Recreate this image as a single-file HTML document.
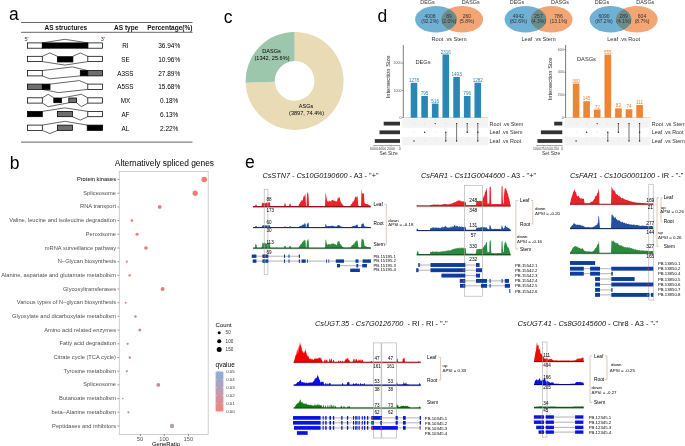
<!DOCTYPE html>
<html><head><meta charset="utf-8"><style>
html,body{margin:0;padding:0;background:#fff;}
svg{display:block;will-change:transform;}
text{font-family:"Liberation Sans", sans-serif;}
</style></head><body>
<svg width="685" height="446" viewBox="0 0 685 446">
<rect width="685" height="446" fill="#fff"/>
<text x="9.00" y="19.80" font-size="17.5">a</text>
<text x="9.80" y="168.80" font-size="17.5">b</text>
<text x="223.80" y="22.90" font-size="17.5">c</text>
<text x="377.60" y="22.20" font-size="17.5">d</text>
<text x="244.90" y="167.90" font-size="17.5">e</text>
<line x1="21.00" y1="22.50" x2="192.50" y2="22.50" stroke="#6f6363" stroke-width="1.0"/>
<line x1="21.00" y1="32.30" x2="192.50" y2="32.30" stroke="#6f6363" stroke-width="1.0"/>
<line x1="21.00" y1="142.10" x2="192.50" y2="142.10" stroke="#8a8080" stroke-width="1.1"/>
<text x="65.80" y="29.74" font-size="6.5" text-anchor="middle" fill="#111" font-weight="bold">AS structures</text>
<text x="126.20" y="29.74" font-size="6.5" text-anchor="middle" fill="#111" font-weight="bold">AS type</text>
<text x="169.80" y="29.74" font-size="6.5" text-anchor="middle" fill="#111" font-weight="bold">Percentage(%)</text>
<text x="24.50" y="40.68" font-size="5.5" fill="#333">5'</text>
<text x="100.80" y="40.78" font-size="5.5" fill="#333">3'</text>
<text x="125.40" y="48.07" font-size="6.3" text-anchor="middle">RI</text>
<text x="169.20" y="48.14" font-size="6.5" text-anchor="middle">36.94%</text>
<text x="125.40" y="61.84" font-size="6.3" text-anchor="middle">SE</text>
<text x="169.20" y="61.91" font-size="6.5" text-anchor="middle">10.96%</text>
<text x="125.40" y="75.61" font-size="6.3" text-anchor="middle">A3SS</text>
<text x="169.20" y="75.68" font-size="6.5" text-anchor="middle">27.89%</text>
<text x="125.40" y="89.38" font-size="6.3" text-anchor="middle">A5SS</text>
<text x="169.20" y="89.45" font-size="6.5" text-anchor="middle">15.68%</text>
<text x="125.40" y="103.15" font-size="6.3" text-anchor="middle">MX</text>
<text x="169.20" y="103.22" font-size="6.5" text-anchor="middle">0.18%</text>
<text x="125.40" y="116.92" font-size="6.3" text-anchor="middle">AF</text>
<text x="169.20" y="116.99" font-size="6.5" text-anchor="middle">6.13%</text>
<text x="125.40" y="130.69" font-size="6.3" text-anchor="middle">AL</text>
<text x="169.20" y="130.76" font-size="6.5" text-anchor="middle">2.22%</text>
<polyline points="42.30,42.90 64.90,39.30 87.80,42.90" fill="none" stroke="#000" stroke-width="0.6"/>
<rect x="27.40" y="42.90" width="14.90" height="5.30" fill="#fff" stroke="#000" stroke-width="0.75"/>
<rect x="87.80" y="42.90" width="14.80" height="5.30" fill="#fff" stroke="#000" stroke-width="0.75"/>
<rect x="42.30" y="42.90" width="45.50" height="5.30" fill="#000" stroke="#000" stroke-width="0.75"/>
<polyline points="42.30,56.30 49.90,52.90 57.40,56.30" fill="none" stroke="#000" stroke-width="0.6"/>
<polyline points="72.90,56.30 80.30,52.90 87.80,56.30" fill="none" stroke="#000" stroke-width="0.6"/>
<polyline points="42.30,61.60 64.90,65.10 87.80,61.60" fill="none" stroke="#000" stroke-width="0.6"/>
<rect x="27.40" y="56.30" width="14.90" height="5.30" fill="#fff" stroke="#000" stroke-width="0.75"/>
<rect x="87.80" y="56.30" width="14.80" height="5.30" fill="#fff" stroke="#000" stroke-width="0.75"/>
<rect x="57.40" y="56.70" width="15.50" height="5.30" fill="#000" stroke="#000" stroke-width="0.75"/>
<polyline points="42.30,70.60 72.30,66.90 87.80,70.60" fill="none" stroke="#000" stroke-width="0.6"/>
<polyline points="42.30,75.90 49.90,78.80 80.30,75.90" fill="none" stroke="#000" stroke-width="0.6"/>
<rect x="27.40" y="70.60" width="14.90" height="5.30" fill="#fff" stroke="#000" stroke-width="0.75"/>
<rect x="80.30" y="70.60" width="7.50" height="5.30" fill="#000" stroke="#000" stroke-width="0.75"/>
<rect x="87.80" y="70.60" width="14.80" height="5.30" fill="#6e6e6e" stroke="#000" stroke-width="0.75"/>
<polyline points="50.00,84.10 79.40,80.60 87.80,84.10" fill="none" stroke="#000" stroke-width="0.6"/>
<polyline points="42.30,89.40 58.50,92.60 87.80,89.40" fill="none" stroke="#000" stroke-width="0.6"/>
<rect x="27.40" y="84.10" width="14.90" height="5.30" fill="#6e6e6e" stroke="#000" stroke-width="0.75"/>
<rect x="42.30" y="84.10" width="7.70" height="5.30" fill="#000" stroke="#000" stroke-width="0.75"/>
<rect x="87.80" y="84.10" width="14.80" height="5.30" fill="#fff" stroke="#000" stroke-width="0.75"/>
<polyline points="42.30,97.80 48.20,94.30 53.80,97.80" fill="none" stroke="#000" stroke-width="0.6"/>
<polyline points="61.60,98.00 81.40,94.30 87.80,97.80" fill="none" stroke="#000" stroke-width="0.6"/>
<polyline points="42.30,103.10 48.20,106.70 68.80,102.80" fill="none" stroke="#000" stroke-width="0.6"/>
<polyline points="76.60,102.80 81.40,106.70 87.80,103.10" fill="none" stroke="#000" stroke-width="0.6"/>
<rect x="27.40" y="97.80" width="14.90" height="5.30" fill="#fff" stroke="#000" stroke-width="0.75"/>
<rect x="87.80" y="97.80" width="14.80" height="5.30" fill="#fff" stroke="#000" stroke-width="0.75"/>
<rect x="53.80" y="98.00" width="7.80" height="4.70" fill="#000" stroke="#000" stroke-width="0.75"/>
<rect x="68.80" y="98.00" width="7.80" height="4.70" fill="#6e6e6e" stroke="#000" stroke-width="0.75"/>
<polyline points="42.30,111.40 64.90,107.90 87.80,111.40" fill="none" stroke="#000" stroke-width="0.6"/>
<polyline points="72.40,116.70 80.20,120.10 87.80,116.70" fill="none" stroke="#000" stroke-width="0.6"/>
<rect x="27.40" y="111.40" width="14.90" height="5.30" fill="#000" stroke="#000" stroke-width="0.75"/>
<rect x="57.40" y="111.40" width="15.00" height="5.30" fill="#6e6e6e" stroke="#000" stroke-width="0.75"/>
<rect x="87.80" y="111.40" width="14.80" height="5.30" fill="#fff" stroke="#000" stroke-width="0.75"/>
<polyline points="42.30,125.10 64.90,121.30 87.20,125.10" fill="none" stroke="#000" stroke-width="0.6"/>
<polyline points="42.30,130.40 50.00,133.60 57.40,130.40" fill="none" stroke="#000" stroke-width="0.6"/>
<rect x="27.40" y="125.10" width="14.90" height="5.30" fill="#fff" stroke="#000" stroke-width="0.75"/>
<rect x="57.40" y="125.10" width="15.00" height="5.30" fill="#6e6e6e" stroke="#000" stroke-width="0.75"/>
<rect x="87.20" y="125.10" width="15.40" height="5.30" fill="#000" stroke="#000" stroke-width="0.75"/>
<text x="164.40" y="166.22" font-size="8.4" text-anchor="middle">Alternatively spliced genes</text>
<rect x="119.30" y="171.50" width="88.90" height="262.90" fill="#fff" stroke="#c4c4c4" stroke-width="0.8"/>
<text x="116.00" y="181.06" font-size="5.72" text-anchor="end" fill="#262626" stroke="#262626" stroke-width="0.06">Protein kinases</text>
<line x1="117.40" y1="179.50" x2="119.20" y2="179.50" stroke="#555" stroke-width="0.6"/>
<circle cx="204.20" cy="179.50" r="2.80" fill="#f7786d"/>
<text x="116.00" y="194.75" font-size="5.72" text-anchor="end" fill="#505050">Spliceosome</text>
<line x1="117.40" y1="193.19" x2="119.20" y2="193.19" stroke="#555" stroke-width="0.6"/>
<circle cx="195.20" cy="193.19" r="2.60" fill="#f5796e"/>
<text x="116.00" y="208.45" font-size="5.72" text-anchor="end" fill="#505050">RNA transport</text>
<line x1="117.40" y1="206.89" x2="119.20" y2="206.89" stroke="#555" stroke-width="0.6"/>
<circle cx="159.70" cy="206.89" r="1.90" fill="#f07a6f"/>
<text x="116.00" y="222.14" font-size="5.72" text-anchor="end" fill="#505050">Valine, leucine and isoleucine degradation</text>
<line x1="117.40" y1="220.58" x2="119.20" y2="220.58" stroke="#555" stroke-width="0.6"/>
<circle cx="131.90" cy="220.58" r="1.30" fill="#ee7a70"/>
<text x="116.00" y="235.83" font-size="5.72" text-anchor="end" fill="#505050">Peroxisome</text>
<line x1="117.40" y1="234.27" x2="119.20" y2="234.27" stroke="#555" stroke-width="0.6"/>
<circle cx="137.00" cy="234.27" r="1.50" fill="#ec7b72"/>
<text x="116.00" y="249.52" font-size="5.72" text-anchor="end" fill="#505050">mRNA surveillance pathway</text>
<line x1="117.40" y1="247.97" x2="119.20" y2="247.97" stroke="#555" stroke-width="0.6"/>
<circle cx="146.00" cy="247.97" r="1.80" fill="#e87d75"/>
<text x="116.00" y="263.22" font-size="5.72" text-anchor="end" fill="#505050">N−Glycan biosynthesis</text>
<line x1="117.40" y1="261.66" x2="119.20" y2="261.66" stroke="#555" stroke-width="0.6"/>
<circle cx="126.80" cy="261.66" r="1.10" fill="#e77d76"/>
<text x="116.00" y="276.91" font-size="5.72" text-anchor="end" fill="#505050">Alanine, aspartate and glutamate metabolism</text>
<line x1="117.40" y1="275.35" x2="119.20" y2="275.35" stroke="#555" stroke-width="0.6"/>
<circle cx="129.70" cy="275.35" r="1.20" fill="#e47f78"/>
<text x="116.00" y="290.60" font-size="5.72" text-anchor="end" fill="#505050">Glycosyltransferases</text>
<line x1="117.40" y1="289.04" x2="119.20" y2="289.04" stroke="#555" stroke-width="0.6"/>
<circle cx="162.60" cy="289.04" r="2.00" fill="#de827c"/>
<text x="116.00" y="304.30" font-size="5.72" text-anchor="end" fill="#505050">Various types of N−glycan biosynthesis</text>
<line x1="117.40" y1="302.74" x2="119.20" y2="302.74" stroke="#555" stroke-width="0.6"/>
<circle cx="125.70" cy="302.74" r="1.00" fill="#d9847f"/>
<text x="116.00" y="317.99" font-size="5.72" text-anchor="end" fill="#505050">Glyoxylate and dicarboxylate metabolism</text>
<line x1="117.40" y1="316.43" x2="119.20" y2="316.43" stroke="#555" stroke-width="0.6"/>
<circle cx="135.40" cy="316.43" r="1.30" fill="#c98b8f"/>
<text x="116.00" y="331.68" font-size="5.72" text-anchor="end" fill="#505050">Amino acid related enzymes</text>
<line x1="117.40" y1="330.12" x2="119.20" y2="330.12" stroke="#555" stroke-width="0.6"/>
<circle cx="139.80" cy="330.12" r="1.50" fill="#c88b90"/>
<text x="116.00" y="345.38" font-size="5.72" text-anchor="end" fill="#505050">Fatty acid degradation</text>
<line x1="117.40" y1="343.82" x2="119.20" y2="343.82" stroke="#555" stroke-width="0.6"/>
<circle cx="127.60" cy="343.82" r="1.10" fill="#c98a8e"/>
<text x="116.00" y="359.07" font-size="5.72" text-anchor="end" fill="#505050">Citrate cycle (TCA cycle)</text>
<line x1="117.40" y1="357.51" x2="119.20" y2="357.51" stroke="#555" stroke-width="0.6"/>
<circle cx="129.80" cy="357.51" r="1.20" fill="#c68b91"/>
<text x="116.00" y="372.76" font-size="5.72" text-anchor="end" fill="#505050">Tyrosine metabolism</text>
<line x1="117.40" y1="371.20" x2="119.20" y2="371.20" stroke="#555" stroke-width="0.6"/>
<circle cx="126.80" cy="371.20" r="1.10" fill="#c58c92"/>
<text x="116.00" y="386.45" font-size="5.72" text-anchor="end" fill="#505050">Spliceosome</text>
<line x1="117.40" y1="384.89" x2="119.20" y2="384.89" stroke="#555" stroke-width="0.6"/>
<circle cx="158.30" cy="384.89" r="1.90" fill="#bf8e95"/>
<text x="116.00" y="400.15" font-size="5.72" text-anchor="end" fill="#505050">Butanoate metabolism</text>
<line x1="117.40" y1="398.59" x2="119.20" y2="398.59" stroke="#555" stroke-width="0.6"/>
<circle cx="122.80" cy="398.59" r="0.80" fill="#bb8f98"/>
<text x="116.00" y="413.84" font-size="5.72" text-anchor="end" fill="#505050">beta−Alanine metabolism</text>
<line x1="117.40" y1="412.28" x2="119.20" y2="412.28" stroke="#555" stroke-width="0.6"/>
<circle cx="128.40" cy="412.28" r="1.10" fill="#b9909a"/>
<text x="116.00" y="427.53" font-size="5.72" text-anchor="end" fill="#505050">Peptidases and inhibitors</text>
<line x1="117.40" y1="425.97" x2="119.20" y2="425.97" stroke="#555" stroke-width="0.6"/>
<circle cx="172.00" cy="425.97" r="2.20" fill="#b29db6"/>
<line x1="140.40" y1="434.30" x2="140.40" y2="436.00" stroke="#444" stroke-width="0.6"/>
<text x="140.10" y="440.89" font-size="5.8" text-anchor="middle" fill="#555">50</text>
<line x1="164.30" y1="434.30" x2="164.30" y2="436.00" stroke="#444" stroke-width="0.6"/>
<text x="164.00" y="440.89" font-size="5.8" text-anchor="middle" fill="#555">100</text>
<line x1="188.60" y1="434.30" x2="188.60" y2="436.00" stroke="#444" stroke-width="0.6"/>
<text x="188.30" y="440.89" font-size="5.8" text-anchor="middle" fill="#555">150</text>
<text x="166.00" y="445.72" font-size="5.9" text-anchor="middle">GeneRatio</text>
<text x="215.60" y="326.56" font-size="6.0">Count</text>
<circle cx="219.20" cy="332.70" r="1.50" fill="#000"/>
<text x="225.60" y="334.36" font-size="4.6" fill="#333">50</text>
<circle cx="219.20" cy="341.30" r="2.00" fill="#000"/>
<text x="225.60" y="342.96" font-size="4.6" fill="#333">100</text>
<circle cx="219.20" cy="349.60" r="2.50" fill="#000"/>
<text x="225.60" y="351.26" font-size="4.6" fill="#333">150</text>
<text x="215.60" y="366.54" font-size="6.5">qvalue</text>
<defs><linearGradient id="qg" x1="0" y1="0" x2="0" y2="1"><stop offset="0" stop-color="#88b0da"/><stop offset="0.5" stop-color="#c09bb0"/><stop offset="1" stop-color="#f8807a"/></linearGradient></defs>
<rect x="215.60" y="371.50" width="7.80" height="40.00" fill="url(#qg)"/>
<text x="226.20" y="373.38" font-size="4.4" fill="#333">0.05</text>
<line x1="215.60" y1="371.80" x2="217.00" y2="371.80" stroke="#fff" stroke-width="0.4"/>
<line x1="222.00" y1="371.80" x2="223.40" y2="371.80" stroke="#fff" stroke-width="0.4"/>
<text x="226.20" y="381.28" font-size="4.4" fill="#333">0.04</text>
<line x1="215.60" y1="379.70" x2="217.00" y2="379.70" stroke="#fff" stroke-width="0.4"/>
<line x1="222.00" y1="379.70" x2="223.40" y2="379.70" stroke="#fff" stroke-width="0.4"/>
<text x="226.20" y="389.18" font-size="4.4" fill="#333">0.03</text>
<line x1="215.60" y1="387.60" x2="217.00" y2="387.60" stroke="#fff" stroke-width="0.4"/>
<line x1="222.00" y1="387.60" x2="223.40" y2="387.60" stroke="#fff" stroke-width="0.4"/>
<text x="226.20" y="397.08" font-size="4.4" fill="#333">0.02</text>
<line x1="215.60" y1="395.50" x2="217.00" y2="395.50" stroke="#fff" stroke-width="0.4"/>
<line x1="222.00" y1="395.50" x2="223.40" y2="395.50" stroke="#fff" stroke-width="0.4"/>
<text x="226.20" y="404.98" font-size="4.4" fill="#333">0.01</text>
<line x1="215.60" y1="403.40" x2="217.00" y2="403.40" stroke="#fff" stroke-width="0.4"/>
<line x1="222.00" y1="403.40" x2="223.40" y2="403.40" stroke="#fff" stroke-width="0.4"/>
<text x="226.20" y="412.88" font-size="4.4" fill="#333">0.00</text>
<line x1="215.60" y1="411.30" x2="217.00" y2="411.30" stroke="#fff" stroke-width="0.4"/>
<line x1="222.00" y1="411.30" x2="223.40" y2="411.30" stroke="#fff" stroke-width="0.4"/>
<path d="M294.60,31.90 A49.0,49.0 0 1 1 245.63,82.75 L274.81,81.65 A19.8,19.8 0 1 0 294.60,61.10 Z" fill="#e8dbb6"/>
<path d="M245.63,82.75 A49.0,49.0 0 0 1 294.60,31.90 L294.60,61.10 A19.8,19.8 0 0 0 274.81,81.65 Z" fill="#9dc7ad"/>
<text x="271.60" y="52.92" font-size="5.6" text-anchor="middle">DASGs</text>
<text x="272.00" y="59.82" font-size="5.6" text-anchor="middle">(1342, 25.6%)</text>
<text x="306.00" y="108.42" font-size="5.6" text-anchor="middle">ASGs</text>
<text x="306.60" y="115.32" font-size="5.6" text-anchor="middle">(3897, 74.4%)</text>
<ellipse cx="436.0" cy="19.3" rx="20.9" ry="13.3" fill="#6fb1d5"/>
<ellipse cx="462.2" cy="19.3" rx="20.9" ry="13.3" fill="#f3a574"/>
<clipPath id="vc0"><ellipse cx="436.0" cy="19.3" rx="20.9" ry="13.3"/></clipPath>
<ellipse cx="462.2" cy="19.3" rx="20.9" ry="13.3" fill="#6b8c8e" clip-path="url(#vc0)"/>
<text x="430.00" y="18.10" font-size="5.0" text-anchor="middle" fill="#333">4008</text>
<text x="430.00" y="23.20" font-size="5.0" text-anchor="middle" fill="#333">(92.2%)</text>
<text x="449.00" y="18.10" font-size="5.0" text-anchor="middle" fill="#333">89</text>
<text x="449.00" y="23.20" font-size="5.0" text-anchor="middle" fill="#333">(2.0%)</text>
<text x="466.80" y="18.10" font-size="5.0" text-anchor="middle" fill="#333">260</text>
<text x="466.80" y="23.20" font-size="5.0" text-anchor="middle" fill="#333">(5.8%)</text>
<text x="427.50" y="3.54" font-size="5.4" text-anchor="middle" fill="#333">DEGs</text>
<text x="470.70" y="3.54" font-size="5.4" text-anchor="middle" fill="#333">DASGs</text>
<text x="449.10" y="41.02" font-size="5.6" text-anchor="middle" fill="#333">Root .vs Stem</text>
<ellipse cx="525.5" cy="19.3" rx="20.9" ry="13.3" fill="#6fb1d5"/>
<ellipse cx="551.6" cy="19.3" rx="20.9" ry="13.3" fill="#f3a574"/>
<clipPath id="vc1"><ellipse cx="525.5" cy="19.3" rx="20.9" ry="13.3"/></clipPath>
<ellipse cx="551.6" cy="19.3" rx="20.9" ry="13.3" fill="#6b8c8e" clip-path="url(#vc1)"/>
<text x="518.40" y="18.10" font-size="5.0" text-anchor="middle" fill="#333">4942</text>
<text x="518.40" y="23.20" font-size="5.0" text-anchor="middle" fill="#333">(82.6%)</text>
<text x="538.50" y="18.10" font-size="5.0" text-anchor="middle" fill="#333">257</text>
<text x="538.50" y="23.20" font-size="5.0" text-anchor="middle" fill="#333">(4.3%)</text>
<text x="558.50" y="18.10" font-size="5.0" text-anchor="middle" fill="#333">786</text>
<text x="558.50" y="23.20" font-size="5.0" text-anchor="middle" fill="#333">(13.1%)</text>
<text x="517.00" y="3.54" font-size="5.4" text-anchor="middle" fill="#333">DEGs</text>
<text x="560.10" y="3.54" font-size="5.4" text-anchor="middle" fill="#333">DASGs</text>
<text x="538.55" y="41.02" font-size="5.6" text-anchor="middle" fill="#333">Leaf .vs Stem</text>
<ellipse cx="610.5" cy="19.3" rx="20.9" ry="13.3" fill="#6fb1d5"/>
<ellipse cx="636.8" cy="19.3" rx="20.9" ry="13.3" fill="#f3a574"/>
<clipPath id="vc2"><ellipse cx="610.5" cy="19.3" rx="20.9" ry="13.3"/></clipPath>
<ellipse cx="636.8" cy="19.3" rx="20.9" ry="13.3" fill="#6b8c8e" clip-path="url(#vc2)"/>
<text x="604.00" y="18.10" font-size="5.0" text-anchor="middle" fill="#333">6090</text>
<text x="604.00" y="23.20" font-size="5.0" text-anchor="middle" fill="#333">(87.2%)</text>
<text x="623.70" y="18.10" font-size="5.0" text-anchor="middle" fill="#333">289</text>
<text x="623.70" y="23.20" font-size="5.0" text-anchor="middle" fill="#333">(4.1%)</text>
<text x="642.00" y="18.10" font-size="5.0" text-anchor="middle" fill="#333">604</text>
<text x="642.00" y="23.20" font-size="5.0" text-anchor="middle" fill="#333">(8.7%)</text>
<text x="602.00" y="3.54" font-size="5.4" text-anchor="middle" fill="#333">DEGs</text>
<text x="645.30" y="3.54" font-size="5.4" text-anchor="middle" fill="#333">DASGs</text>
<text x="623.65" y="41.02" font-size="5.6" text-anchor="middle" fill="#333">Leaf .vs Root</text>
<line x1="403.30" y1="45.00" x2="403.30" y2="117.70" stroke="#444" stroke-width="0.7"/>
<line x1="403.30" y1="117.70" x2="488.30" y2="117.70" stroke="#bbb" stroke-width="0.7"/>
<line x1="401.80" y1="117.70" x2="403.30" y2="117.70" stroke="#444" stroke-width="0.5"/>
<text x="401.40" y="118.96" font-size="3.5" text-anchor="end" fill="#555">0</text>
<line x1="401.80" y1="90.40" x2="403.30" y2="90.40" stroke="#444" stroke-width="0.5"/>
<text x="401.40" y="91.66" font-size="3.5" text-anchor="end" fill="#555">1000</text>
<line x1="401.80" y1="63.10" x2="403.30" y2="63.10" stroke="#444" stroke-width="0.5"/>
<text x="401.40" y="64.36" font-size="3.5" text-anchor="end" fill="#555">2000</text>
<text x="415.40" y="64.35" font-size="5.7" fill="#333">DEGs</text>
<text transform="translate(389.80,77) rotate(-90)" font-size="5.8" text-anchor="middle" fill="#222">Intersection Size</text>
<rect x="410.70" y="82.81" width="6.60" height="34.89" fill="#2a87b4"/>
<text x="414.00" y="81.87" font-size="4.6" text-anchor="middle" fill="#2a87b4">1278</text>
<rect x="421.30" y="96.00" width="6.60" height="21.70" fill="#2a87b4"/>
<text x="424.60" y="95.05" font-size="4.6" text-anchor="middle" fill="#2a87b4">795</text>
<rect x="431.90" y="103.61" width="6.60" height="14.09" fill="#2a87b4"/>
<text x="435.20" y="102.67" font-size="4.6" text-anchor="middle" fill="#2a87b4">516</text>
<rect x="442.50" y="54.47" width="6.60" height="63.23" fill="#2a87b4"/>
<text x="445.80" y="53.53" font-size="4.6" text-anchor="middle" fill="#2a87b4">2316</text>
<rect x="453.30" y="76.94" width="6.60" height="40.76" fill="#2a87b4"/>
<text x="456.60" y="76.00" font-size="4.6" text-anchor="middle" fill="#2a87b4">1493</text>
<rect x="463.90" y="95.97" width="6.60" height="21.73" fill="#2a87b4"/>
<text x="467.20" y="95.03" font-size="4.6" text-anchor="middle" fill="#2a87b4">796</text>
<rect x="474.50" y="82.70" width="6.60" height="35.00" fill="#2a87b4"/>
<text x="477.80" y="81.76" font-size="4.6" text-anchor="middle" fill="#2a87b4">1282</text>
<rect x="402.30" y="119.10" width="86.00" height="8.60" fill="#f3f3f3"/>
<rect x="402.30" y="136.90" width="86.00" height="8.40" fill="#f3f3f3"/>
<circle cx="414.00" cy="123.60" r="0.55" fill="#d8d8d8"/>
<circle cx="414.00" cy="132.30" r="0.55" fill="#d8d8d8"/>
<circle cx="414.00" cy="141.00" r="0.70" fill="#222"/>
<circle cx="424.60" cy="123.60" r="0.55" fill="#d8d8d8"/>
<circle cx="424.60" cy="141.00" r="0.55" fill="#d8d8d8"/>
<circle cx="424.60" cy="132.30" r="0.70" fill="#222"/>
<circle cx="435.20" cy="132.30" r="0.55" fill="#d8d8d8"/>
<circle cx="435.20" cy="141.00" r="0.55" fill="#d8d8d8"/>
<circle cx="435.20" cy="123.60" r="0.70" fill="#222"/>
<circle cx="445.80" cy="123.60" r="0.55" fill="#d8d8d8"/>
<line x1="445.80" y1="132.30" x2="445.80" y2="141.00" stroke="#606060" stroke-width="0.85"/>
<circle cx="445.80" cy="132.30" r="0.70" fill="#222"/>
<circle cx="445.80" cy="141.00" r="0.70" fill="#222"/>
<circle cx="456.60" cy="132.30" r="0.55" fill="#d8d8d8"/>
<line x1="456.60" y1="123.60" x2="456.60" y2="141.00" stroke="#606060" stroke-width="0.85"/>
<circle cx="456.60" cy="123.60" r="0.70" fill="#222"/>
<circle cx="456.60" cy="141.00" r="0.70" fill="#222"/>
<circle cx="467.20" cy="141.00" r="0.55" fill="#d8d8d8"/>
<line x1="467.20" y1="123.60" x2="467.20" y2="132.30" stroke="#606060" stroke-width="0.85"/>
<circle cx="467.20" cy="123.60" r="0.70" fill="#222"/>
<circle cx="467.20" cy="132.30" r="0.70" fill="#222"/>
<line x1="477.80" y1="123.60" x2="477.80" y2="141.00" stroke="#606060" stroke-width="0.85"/>
<circle cx="477.80" cy="123.60" r="0.70" fill="#222"/>
<circle cx="477.80" cy="132.30" r="0.70" fill="#222"/>
<circle cx="477.80" cy="141.00" r="0.70" fill="#222"/>
<rect x="383.70" y="121.70" width="16.30" height="3.80" fill="#333"/>
<text x="489.50" y="125.54" font-size="5.4" fill="#333">Root .vs Stem</text>
<rect x="379.50" y="130.40" width="20.50" height="3.80" fill="#333"/>
<text x="489.50" y="134.24" font-size="5.4" fill="#333">Leaf .vs Stem</text>
<rect x="374.80" y="139.10" width="25.20" height="3.80" fill="#333"/>
<text x="489.50" y="142.94" font-size="5.4" fill="#333">Leaf .vs Root</text>
<line x1="373.50" y1="145.60" x2="400.00" y2="145.60" stroke="#444" stroke-width="0.5"/>
<line x1="374.00" y1="145.60" x2="374.00" y2="146.60" stroke="#444" stroke-width="0.4"/>
<text x="374.00" y="149.76" font-size="3.5" text-anchor="middle" fill="#444">6000</text>
<line x1="382.20" y1="145.60" x2="382.20" y2="146.60" stroke="#444" stroke-width="0.4"/>
<text x="382.20" y="149.76" font-size="3.5" text-anchor="middle" fill="#444">4000</text>
<line x1="391.00" y1="145.60" x2="391.00" y2="146.60" stroke="#444" stroke-width="0.4"/>
<text x="391.00" y="149.76" font-size="3.5" text-anchor="middle" fill="#444">2000</text>
<line x1="399.80" y1="145.60" x2="399.80" y2="146.60" stroke="#444" stroke-width="0.4"/>
<text x="399.80" y="149.76" font-size="3.5" text-anchor="middle" fill="#444">0</text>
<text x="388.50" y="155.26" font-size="4.9" text-anchor="middle" fill="#333">Set Size</text>
<line x1="565.60" y1="45.00" x2="565.60" y2="117.70" stroke="#444" stroke-width="0.7"/>
<line x1="565.60" y1="117.70" x2="650.60" y2="117.70" stroke="#bbb" stroke-width="0.7"/>
<line x1="564.10" y1="117.70" x2="565.60" y2="117.70" stroke="#444" stroke-width="0.5"/>
<text x="563.70" y="118.96" font-size="3.5" text-anchor="end" fill="#555">0</text>
<line x1="564.10" y1="94.96" x2="565.60" y2="94.96" stroke="#444" stroke-width="0.5"/>
<text x="563.70" y="96.22" font-size="3.5" text-anchor="end" fill="#555">200</text>
<line x1="564.10" y1="72.22" x2="565.60" y2="72.22" stroke="#444" stroke-width="0.5"/>
<text x="563.70" y="73.48" font-size="3.5" text-anchor="end" fill="#555">400</text>
<line x1="564.10" y1="49.48" x2="565.60" y2="49.48" stroke="#444" stroke-width="0.5"/>
<text x="563.70" y="50.74" font-size="3.5" text-anchor="end" fill="#555">600</text>
<text x="577.00" y="61.05" font-size="5.7" fill="#333">DASGs</text>
<text transform="translate(551.90,79) rotate(-90)" font-size="5.8" text-anchor="middle" fill="#222">Intersection Size</text>
<rect x="572.80" y="83.59" width="6.60" height="34.11" fill="#ec8535"/>
<text x="576.10" y="82.65" font-size="4.6" text-anchor="middle" fill="#ec8535">300</text>
<rect x="583.30" y="101.21" width="6.60" height="16.49" fill="#ec8535"/>
<text x="586.60" y="100.27" font-size="4.6" text-anchor="middle" fill="#ec8535">145</text>
<rect x="593.90" y="109.51" width="6.60" height="8.19" fill="#ec8535"/>
<text x="597.20" y="108.57" font-size="4.6" text-anchor="middle" fill="#ec8535">72</text>
<rect x="604.50" y="54.60" width="6.60" height="63.10" fill="#ec8535"/>
<text x="607.80" y="53.65" font-size="4.6" text-anchor="middle" fill="#ec8535">555</text>
<rect x="615.10" y="108.38" width="6.60" height="9.32" fill="#ec8535"/>
<text x="618.40" y="107.43" font-size="4.6" text-anchor="middle" fill="#ec8535">82</text>
<rect x="625.70" y="109.29" width="6.60" height="8.41" fill="#ec8535"/>
<text x="629.00" y="108.34" font-size="4.6" text-anchor="middle" fill="#ec8535">74</text>
<rect x="636.30" y="105.08" width="6.60" height="12.62" fill="#ec8535"/>
<text x="639.60" y="104.14" font-size="4.6" text-anchor="middle" fill="#ec8535">111</text>
<rect x="564.60" y="119.10" width="86.00" height="8.60" fill="#f3f3f3"/>
<rect x="564.60" y="136.90" width="86.00" height="8.40" fill="#f3f3f3"/>
<circle cx="576.10" cy="123.60" r="0.55" fill="#d8d8d8"/>
<circle cx="576.10" cy="132.30" r="0.55" fill="#d8d8d8"/>
<circle cx="576.10" cy="141.00" r="0.70" fill="#222"/>
<circle cx="586.60" cy="123.60" r="0.55" fill="#d8d8d8"/>
<circle cx="586.60" cy="141.00" r="0.55" fill="#d8d8d8"/>
<circle cx="586.60" cy="132.30" r="0.70" fill="#222"/>
<circle cx="597.20" cy="132.30" r="0.55" fill="#d8d8d8"/>
<circle cx="597.20" cy="141.00" r="0.55" fill="#d8d8d8"/>
<circle cx="597.20" cy="123.60" r="0.70" fill="#222"/>
<circle cx="607.80" cy="123.60" r="0.55" fill="#d8d8d8"/>
<line x1="607.80" y1="132.30" x2="607.80" y2="141.00" stroke="#606060" stroke-width="0.85"/>
<circle cx="607.80" cy="132.30" r="0.70" fill="#222"/>
<circle cx="607.80" cy="141.00" r="0.70" fill="#222"/>
<circle cx="618.40" cy="141.00" r="0.55" fill="#d8d8d8"/>
<line x1="618.40" y1="123.60" x2="618.40" y2="132.30" stroke="#606060" stroke-width="0.85"/>
<circle cx="618.40" cy="123.60" r="0.70" fill="#222"/>
<circle cx="618.40" cy="132.30" r="0.70" fill="#222"/>
<circle cx="629.00" cy="132.30" r="0.55" fill="#d8d8d8"/>
<line x1="629.00" y1="123.60" x2="629.00" y2="141.00" stroke="#606060" stroke-width="0.85"/>
<circle cx="629.00" cy="123.60" r="0.70" fill="#222"/>
<circle cx="629.00" cy="141.00" r="0.70" fill="#222"/>
<line x1="639.60" y1="123.60" x2="639.60" y2="141.00" stroke="#606060" stroke-width="0.85"/>
<circle cx="639.60" cy="123.60" r="0.70" fill="#222"/>
<circle cx="639.60" cy="132.30" r="0.70" fill="#222"/>
<circle cx="639.60" cy="141.00" r="0.70" fill="#222"/>
<rect x="554.20" y="121.70" width="8.10" height="3.80" fill="#333"/>
<text x="651.80" y="125.54" font-size="5.4" fill="#333">Root .vs Stem</text>
<rect x="540.90" y="130.40" width="21.40" height="3.80" fill="#333"/>
<text x="651.80" y="134.24" font-size="5.4" fill="#333">Leaf .vs Root</text>
<rect x="537.40" y="139.10" width="24.90" height="3.80" fill="#333"/>
<text x="651.80" y="142.94" font-size="5.4" fill="#333">Leaf .vs Stem</text>
<line x1="536.50" y1="145.60" x2="562.30" y2="145.60" stroke="#444" stroke-width="0.5"/>
<line x1="537.00" y1="145.60" x2="537.00" y2="146.60" stroke="#444" stroke-width="0.4"/>
<text x="537.00" y="149.76" font-size="3.5" text-anchor="middle" fill="#444">1000</text>
<line x1="543.80" y1="145.60" x2="543.80" y2="146.60" stroke="#444" stroke-width="0.4"/>
<text x="543.80" y="149.76" font-size="3.5" text-anchor="middle" fill="#444">750</text>
<line x1="550.00" y1="145.60" x2="550.00" y2="146.60" stroke="#444" stroke-width="0.4"/>
<text x="550.00" y="149.76" font-size="3.5" text-anchor="middle" fill="#444">500</text>
<line x1="556.30" y1="145.60" x2="556.30" y2="146.60" stroke="#444" stroke-width="0.4"/>
<text x="556.30" y="149.76" font-size="3.5" text-anchor="middle" fill="#444">250</text>
<line x1="562.30" y1="145.60" x2="562.30" y2="146.60" stroke="#444" stroke-width="0.4"/>
<text x="562.30" y="149.76" font-size="3.5" text-anchor="middle" fill="#444">0</text>
<text x="551.15" y="155.26" font-size="4.9" text-anchor="middle" fill="#333">Set Size</text>
<text x="262.40" y="177.53" font-size="7.3" fill="#111"><tspan font-style="italic">CsSTN7 - Cs10G0190600</tspan> - A3 - "+"</text>
<polygon points="253.00,206.60 253.00,206.30 253.50,206.30 254.00,206.30 254.50,206.30 255.00,206.30 255.50,204.97 256.00,204.29 256.50,205.01 257.00,206.30 257.50,206.30 258.00,206.30 258.50,206.30 259.00,206.30 259.50,206.30 260.00,206.30 260.50,206.30 261.00,206.30 261.50,206.30 262.00,203.33 262.50,202.55 263.00,202.84 263.50,203.35 264.00,202.60 264.50,203.39 265.00,202.72 265.50,203.33 266.00,203.30 266.50,202.74 267.00,202.06 267.50,203.24 268.00,203.07 268.50,202.40 269.00,201.86 269.50,202.48 270.00,202.78 270.50,206.30 271.00,206.30 271.50,206.30 272.00,206.30 272.50,206.30 273.00,206.30 273.50,206.30 274.00,206.30 274.50,206.30 275.00,206.30 275.50,206.30 276.00,205.46 276.50,205.95 277.00,206.30 277.50,206.30 278.00,206.30 278.50,206.30 279.00,206.30 279.50,206.30 280.00,206.30 280.50,206.30 281.00,206.30 281.50,206.30 282.00,206.30 282.50,206.30 283.00,206.30 283.50,206.30 284.00,206.30 284.50,203.99 285.00,202.88 285.50,203.66 286.00,206.30 286.50,206.30 287.00,206.30 287.50,206.30 288.00,206.30 288.50,206.30 289.00,206.30 289.50,203.69 290.00,203.73 290.50,203.46 291.00,206.30 291.50,206.30 292.00,206.30 292.50,206.30 293.00,206.30 293.50,206.30 294.00,206.30 294.50,206.30 295.00,206.30 295.50,206.30 296.00,206.30 296.50,206.30 297.00,206.30 297.50,206.30 298.00,206.30 298.50,206.30 299.00,204.08 299.50,203.97 300.00,202.61 300.50,201.65 301.00,201.41 301.50,200.17 302.00,200.79 302.50,200.14 303.00,198.93 303.50,196.31 304.00,196.54 304.50,196.28 305.00,194.16 305.50,194.03 306.00,206.30 306.50,206.30 307.00,194.86 307.50,192.19 308.00,192.70 308.50,195.16 309.00,206.30 309.50,206.30 310.00,206.30 310.50,206.30 311.00,206.30 311.50,206.30 312.00,206.30 312.50,206.30 313.00,206.30 313.50,206.30 314.00,206.30 314.50,206.30 315.00,206.30 315.50,206.30 316.00,206.30 316.50,206.30 317.00,206.30 317.50,206.30 318.00,206.30 318.50,206.30 319.00,206.30 319.50,206.30 320.00,206.30 320.50,206.30 321.00,206.30 321.50,206.30 322.00,206.30 322.50,206.30 323.00,206.30 323.50,206.30 324.00,206.30 324.50,206.30 325.00,206.30 325.50,193.37 326.00,193.64 326.50,197.62 327.00,200.81 327.50,201.73 328.00,200.08 328.50,201.99 329.00,201.23 329.50,200.36 330.00,201.74 330.50,200.85 331.00,201.88 331.50,200.24 332.00,199.91 332.50,200.32 333.00,199.45 333.50,201.10 334.00,200.36 334.50,200.82 335.00,201.07 335.50,201.58 336.00,201.07 336.50,201.19 337.00,202.37 337.50,197.46 338.00,199.63 338.50,197.32 339.00,197.52 339.50,196.88 340.00,198.89 340.50,201.57 341.00,202.53 341.50,202.70 342.00,204.20 342.50,204.26 343.00,205.10 343.50,205.67 344.00,206.10 344.50,206.10 345.00,206.10 345.50,206.10 346.00,206.10 346.50,206.10 347.00,206.10 347.50,206.10 348.00,206.10 348.50,206.10 349.00,206.10 349.50,206.10 350.00,206.10 350.50,205.44 351.00,204.24 351.50,204.21 352.00,203.44 352.50,202.56 353.00,200.89 353.50,201.96 354.00,200.39 354.50,199.41 355.00,197.60 355.50,197.01 356.00,196.04 356.50,197.66 357.00,196.42 357.50,196.01 358.00,201.71 358.50,206.10 359.00,206.10 359.50,206.10 360.00,206.10 360.50,206.10 361.00,206.10 361.50,188.26 362.00,193.52 362.50,193.39 363.00,193.06 363.50,193.09 364.00,194.73 364.50,202.66 365.00,203.42 365.50,204.02 366.00,203.72 366.50,204.04 367.00,204.09 367.50,204.01 368.00,204.55 368.50,204.87 369.00,204.99 369.50,205.15 370.00,205.65 370.50,205.45 370.80,206.60" fill="#e8232a"/>
<line x1="253.00" y1="207.35" x2="370.80" y2="207.35" stroke="#b0b0b0" stroke-width="0.6"/>
<line x1="253.00" y1="206.60" x2="370.80" y2="206.60" stroke="#8f151a" stroke-width="1.05"/>
<polygon points="253.00,227.40 253.00,227.30 253.50,227.30 254.00,227.30 254.50,227.30 255.00,227.30 255.50,226.00 256.00,225.95 256.50,225.99 257.00,227.30 257.50,227.30 258.00,227.30 258.50,227.30 259.00,227.30 259.50,227.30 260.00,227.30 260.50,227.30 261.00,227.30 261.50,227.30 262.00,226.14 262.50,225.15 263.00,225.44 263.50,224.92 264.00,225.48 264.50,225.48 265.00,225.34 265.50,225.38 266.00,225.21 266.50,225.49 267.00,225.54 267.50,225.39 268.00,225.44 268.50,225.18 269.00,225.52 269.50,224.68 270.00,226.02 270.50,227.30 271.00,227.30 271.50,227.30 272.00,227.30 272.50,227.30 273.00,227.30 273.50,227.30 274.00,227.30 274.50,227.30 275.00,227.30 275.50,227.30 276.00,227.07 276.50,227.19 277.00,227.30 277.50,227.30 278.00,227.30 278.50,227.30 279.00,227.30 279.50,227.30 280.00,227.30 280.50,227.30 281.00,227.30 281.50,227.30 282.00,227.30 282.50,227.30 283.00,227.30 283.50,227.30 284.00,227.30 284.50,226.49 285.00,226.45 285.50,226.40 286.00,227.30 286.50,227.30 287.00,227.30 287.50,227.30 288.00,227.30 288.50,227.30 289.00,227.30 289.50,226.34 290.00,226.45 290.50,226.11 291.00,227.30 291.50,227.30 292.00,227.30 292.50,227.30 293.00,227.30 293.50,227.30 294.00,227.30 294.50,227.30 295.00,227.30 295.50,227.30 296.00,227.30 296.50,227.30 297.00,227.30 297.50,227.30 298.00,227.30 298.50,227.30 299.00,226.63 299.50,226.19 300.00,226.15 300.50,225.87 301.00,225.90 301.50,225.67 302.00,225.21 302.50,225.04 303.00,224.11 303.50,224.69 304.00,224.66 304.50,223.00 305.00,223.39 305.50,223.80 306.00,227.30 306.50,227.30 307.00,223.09 307.50,224.01 308.00,223.12 308.50,222.32 309.00,227.30 309.50,227.30 310.00,227.30 310.50,227.30 311.00,227.30 311.50,227.31 312.00,227.31 312.50,227.31 313.00,227.31 313.50,227.31 314.00,227.31 314.50,227.31 315.00,227.31 315.50,227.31 316.00,227.31 316.50,227.31 317.00,227.32 317.50,227.32 318.00,227.32 318.50,227.32 319.00,227.32 319.50,227.32 320.00,227.32 320.50,227.32 321.00,227.32 321.50,227.32 322.00,227.33 322.50,227.33 323.00,227.33 323.50,227.33 324.00,227.33 324.50,227.33 325.00,227.33 325.50,223.98 326.00,224.19 326.50,225.79 327.00,226.25 327.50,226.34 328.00,226.00 328.50,226.11 329.00,225.96 329.50,226.19 330.00,226.24 330.50,225.89 331.00,225.77 331.50,225.82 332.00,225.83 332.50,225.80 333.00,225.83 333.50,226.18 334.00,226.06 334.50,226.19 335.00,226.41 335.50,226.45 336.00,226.39 336.50,226.45 337.00,226.33 337.50,225.05 338.00,225.47 338.50,225.06 339.00,225.02 339.50,225.19 340.00,225.92 340.50,226.27 341.00,226.53 341.50,226.67 342.00,226.67 342.50,226.82 343.00,226.98 343.50,227.13 344.00,227.28 344.50,227.28 345.00,227.28 345.50,227.28 346.00,227.28 346.50,227.28 347.00,227.28 347.50,227.28 348.00,227.28 348.50,227.28 349.00,227.28 349.50,227.28 350.00,227.28 350.50,227.05 351.00,226.88 351.50,226.71 352.00,226.69 352.50,226.37 353.00,226.07 353.50,225.91 354.00,225.95 354.50,225.67 355.00,225.38 355.50,225.79 356.00,225.14 356.50,224.73 357.00,224.67 357.50,224.52 358.00,226.44 358.50,227.28 359.00,227.28 359.50,227.28 360.00,227.28 360.50,227.28 361.00,227.28 361.50,224.33 362.00,223.43 362.50,224.12 363.00,223.43 363.50,223.19 364.00,224.76 364.50,226.56 365.00,226.43 365.50,226.61 366.00,226.67 366.50,226.74 367.00,226.81 367.50,226.87 368.00,226.94 368.50,226.98 369.00,227.03 369.50,227.07 370.00,227.12 370.50,227.16 370.80,227.40" fill="#23509e"/>
<line x1="253.00" y1="228.15" x2="370.80" y2="228.15" stroke="#b0b0b0" stroke-width="0.6"/>
<line x1="253.00" y1="227.40" x2="370.80" y2="227.40" stroke="#153161" stroke-width="1.05"/>
<polygon points="253.00,248.10 253.00,247.89 253.50,247.89 254.00,247.89 254.50,247.89 255.00,247.89 255.50,243.37 256.00,244.38 256.50,244.46 257.00,247.89 257.50,247.89 258.00,247.89 258.50,247.89 259.00,247.89 259.50,247.89 260.00,247.89 260.50,247.89 261.00,247.89 261.50,247.89 262.00,245.72 262.50,242.42 263.00,242.62 263.50,243.97 264.00,242.58 264.50,242.26 265.00,242.92 265.50,243.55 266.00,243.15 266.50,244.00 267.00,244.24 267.50,242.28 268.00,242.94 268.50,243.19 269.00,242.36 269.50,243.38 270.00,244.87 270.50,247.89 271.00,247.89 271.50,247.89 272.00,247.89 272.50,247.89 273.00,247.89 273.50,247.89 274.00,247.89 274.50,247.89 275.00,247.89 275.50,247.89 276.00,247.40 276.50,247.64 277.00,247.89 277.50,247.89 278.00,247.89 278.50,247.89 279.00,247.89 279.50,247.89 280.00,247.89 280.50,247.89 281.00,247.89 281.50,247.89 282.00,247.89 282.50,247.89 283.00,247.89 283.50,247.89 284.00,247.89 284.50,245.53 285.00,246.11 285.50,246.08 286.00,247.89 286.50,247.89 287.00,247.89 287.50,247.89 288.00,247.89 288.50,247.89 289.00,247.89 289.50,245.91 290.00,245.97 290.50,245.62 291.00,247.89 291.50,247.89 292.00,247.89 292.50,247.89 293.00,247.89 293.50,247.89 294.00,247.89 294.50,247.89 295.00,247.89 295.50,247.89 296.00,247.89 296.50,247.89 297.00,247.89 297.50,247.89 298.00,247.89 298.50,247.89 299.00,246.70 299.50,246.04 300.00,245.82 300.50,244.26 301.00,244.50 301.50,243.77 302.00,242.94 302.50,241.60 303.00,242.18 303.50,240.23 304.00,240.83 304.50,240.16 305.00,239.61 305.50,240.94 306.00,247.89 306.50,247.89 307.00,239.35 307.50,240.32 308.00,241.00 308.50,237.99 309.00,247.89 309.50,247.89 310.00,247.89 310.50,247.89 311.00,247.89 311.50,247.89 312.00,247.89 312.50,247.89 313.00,247.89 313.50,247.89 314.00,247.89 314.50,247.89 315.00,247.89 315.50,247.89 316.00,247.89 316.50,247.89 317.00,247.89 317.50,247.89 318.00,247.89 318.50,247.89 319.00,247.89 319.50,247.89 320.00,247.89 320.50,247.89 321.00,247.89 321.50,247.89 322.00,247.89 322.50,247.89 323.00,247.89 323.50,247.89 324.00,247.89 324.50,247.89 325.00,247.89 325.50,240.36 326.00,239.22 326.50,242.15 327.00,244.32 327.50,244.63 328.00,244.28 328.50,244.17 329.00,243.74 329.50,244.81 330.00,244.01 330.50,244.48 331.00,244.38 331.50,243.47 332.00,243.87 332.50,243.72 333.00,243.30 333.50,243.20 334.00,244.16 334.50,244.03 335.00,244.35 335.50,244.50 336.00,244.44 336.50,244.98 337.00,245.07 337.50,242.17 338.00,241.00 338.50,241.61 339.00,241.17 339.50,241.42 340.00,243.83 340.50,244.13 341.00,244.55 341.50,245.19 342.00,246.32 342.50,246.70 343.00,246.91 343.50,247.46 344.00,247.75 344.50,247.75 345.00,247.75 345.50,247.75 346.00,247.75 346.50,247.75 347.00,247.75 347.50,247.75 348.00,247.75 348.50,247.75 349.00,247.75 349.50,247.75 350.00,247.75 350.50,247.21 351.00,246.88 351.50,245.98 352.00,245.33 352.50,244.64 353.00,245.15 353.50,243.79 354.00,243.36 354.50,243.91 355.00,241.80 355.50,241.02 356.00,242.45 356.50,239.89 357.00,241.02 357.50,240.26 358.00,244.54 358.50,247.76 359.00,247.77 359.50,247.78 360.00,247.78 360.50,247.79 361.00,247.80 361.50,237.67 362.00,240.28 362.50,239.26 363.00,238.96 363.50,239.66 364.00,241.90 364.50,246.01 365.00,245.80 365.50,246.55 366.00,246.28 366.50,246.53 367.00,246.94 367.50,246.90 368.00,246.91 368.50,247.07 369.00,247.35 369.50,247.13 370.00,247.37 370.50,247.48 370.80,248.10" fill="#2b8a3e"/>
<line x1="253.00" y1="248.85" x2="370.80" y2="248.85" stroke="#b0b0b0" stroke-width="0.6"/>
<line x1="253.00" y1="248.10" x2="370.80" y2="248.10" stroke="#1a5526" stroke-width="1.05"/>
<rect x="264.20" y="189.20" width="3.70" height="85.10" fill="none" stroke="#aaa" stroke-width="0.6"/>
<text x="266.40" y="201.46" font-size="4.6">88</text>
<text x="266.40" y="211.66" font-size="4.6">173</text>
<text x="266.40" y="224.46" font-size="4.6">60</text>
<text x="266.40" y="232.36" font-size="4.6">30</text>
<text x="266.40" y="243.56" font-size="4.6">113</text>
<text x="266.40" y="253.56" font-size="4.6">69</text>
<text x="373.50" y="205.93" font-size="4.8">Leaf</text>
<text x="373.50" y="225.03" font-size="4.8">Root</text>
<text x="373.50" y="246.03" font-size="4.8">Stem</text>
<polyline points="384.30,204.20 386.30,204.20 386.30,244.30 384.30,244.30" fill="none" stroke="#c9a48a" stroke-width="0.6"/>
<text x="388.30" y="222.08" font-size="4.4">down</text>
<text x="388.30" y="226.18" font-size="4.4">ΔPSI = -0.18</text>
<line x1="251.80" y1="256.20" x2="300.00" y2="256.20" stroke="#a0a0a0" stroke-width="0.8"/>
<rect x="251.80" y="254.50" width="4.60" height="3.40" fill="#0f3d9e"/>
<rect x="262.40" y="254.50" width="3.10" height="3.40" fill="#0f3d9e"/>
<rect x="263.80" y="255.30" width="1.40" height="1.80" fill="#c0392b"/>
<rect x="265.60" y="254.50" width="2.70" height="3.40" fill="#0f3d9e"/>
<rect x="284.00" y="254.50" width="1.00" height="3.40" fill="#0f3d9e"/>
<rect x="288.50" y="254.50" width="1.00" height="3.40" fill="#0f3d9e"/>
<rect x="298.80" y="254.50" width="1.20" height="3.40" fill="#0f3d9e"/>
<line x1="252.70" y1="261.10" x2="370.90" y2="261.10" stroke="#a0a0a0" stroke-width="0.8"/>
<rect x="252.70" y="259.40" width="3.70" height="3.40" fill="#0f3d9e"/>
<rect x="262.40" y="259.40" width="3.10" height="3.40" fill="#0f3d9e"/>
<rect x="263.80" y="260.20" width="1.40" height="1.80" fill="#2e9e44"/>
<rect x="265.60" y="259.40" width="2.70" height="3.40" fill="#0f3d9e"/>
<rect x="284.00" y="259.40" width="1.00" height="3.40" fill="#0f3d9e"/>
<rect x="288.50" y="259.40" width="1.00" height="3.40" fill="#0f3d9e"/>
<rect x="298.80" y="259.40" width="1.20" height="3.40" fill="#0f3d9e"/>
<rect x="301.60" y="259.40" width="4.10" height="3.40" fill="#0f3d9e"/>
<rect x="307.20" y="259.40" width="0.80" height="3.40" fill="#0f3d9e"/>
<rect x="326.20" y="259.40" width="0.80" height="3.40" fill="#0f3d9e"/>
<rect x="328.40" y="259.40" width="0.80" height="3.40" fill="#0f3d9e"/>
<rect x="335.80" y="259.40" width="8.20" height="3.40" fill="#0f3d9e"/>
<rect x="355.50" y="259.40" width="3.00" height="3.40" fill="#0f3d9e"/>
<rect x="362.60" y="259.40" width="8.30" height="3.40" fill="#0f3d9e"/>
<line x1="337.00" y1="265.70" x2="367.00" y2="265.70" stroke="#a0a0a0" stroke-width="0.8"/>
<rect x="337.00" y="264.00" width="3.00" height="3.40" fill="#0f3d9e"/>
<rect x="356.40" y="264.00" width="1.80" height="3.40" fill="#0f3d9e"/>
<rect x="362.20" y="264.00" width="4.80" height="3.40" fill="#0f3d9e"/>
<rect x="350.20" y="268.60" width="9.70" height="3.40" fill="#0f3d9e"/>
<text x="373.50" y="257.65" font-size="4.3">PB.15195.1</text>
<text x="373.50" y="262.05" font-size="4.3">PB.15195.2</text>
<text x="373.50" y="266.95" font-size="4.3">PB.15195.3</text>
<text x="373.50" y="271.35" font-size="4.3">PB.15195.4</text>
<text x="421.00" y="178.33" font-size="7.3" fill="#111"><tspan font-style="italic">CsFAR1 - Cs11G0044600</tspan> - A3 - "+"</text>
<polygon points="416.70,206.00 416.70,205.20 417.00,205.20 417.30,205.20 417.60,205.20 417.90,205.20 418.20,205.60 418.50,205.80 418.80,205.80 419.10,205.80 419.40,205.80 419.70,205.80 420.00,205.80 420.30,205.80 420.60,205.80 420.90,205.80 421.20,205.80 421.50,205.80 421.80,205.80 422.10,205.80 422.40,205.80 422.70,205.80 423.00,205.80 423.30,205.80 423.60,205.80 423.90,205.80 424.20,205.80 424.50,205.80 424.80,205.80 425.10,205.80 425.40,205.80 425.70,205.80 426.00,205.80 426.30,205.80 426.60,205.80 426.90,205.80 427.20,205.80 427.50,205.80 427.80,205.80 428.10,205.80 428.40,205.80 428.70,205.80 429.00,205.80 429.30,205.80 429.60,205.80 429.90,205.80 430.20,205.27 430.50,204.95 430.80,204.88 431.10,205.02 431.40,204.96 431.70,204.98 432.00,204.78 432.30,204.87 432.60,204.87 432.90,204.77 433.20,204.62 433.50,204.61 433.80,204.72 434.10,204.72 434.40,204.48 434.70,204.55 435.00,204.48 435.30,204.67 435.60,204.70 435.90,204.54 436.20,204.63 436.50,204.74 436.80,204.52 437.10,204.62 437.40,204.60 437.70,204.80 438.00,204.62 438.30,204.84 438.60,204.66 438.90,204.78 439.20,204.82 439.50,204.79 439.80,204.72 440.10,204.86 440.40,204.84 440.70,204.69 441.00,204.70 441.30,204.68 441.60,204.62 441.90,204.59 442.20,204.49 442.50,204.40 442.80,204.35 443.10,204.13 443.40,204.24 443.70,204.11 444.00,204.17 444.30,204.05 444.60,204.13 444.90,203.98 445.20,204.09 445.50,203.86 445.80,203.99 446.10,204.19 446.40,204.14 446.70,204.03 447.00,204.38 447.30,204.20 447.60,204.38 447.90,204.42 448.20,204.29 448.50,204.38 448.80,204.28 449.10,204.16 449.40,203.99 449.70,204.17 450.00,203.92 450.30,203.85 450.60,203.76 450.90,203.74 451.20,203.65 451.50,203.68 451.80,203.54 452.10,203.46 452.40,202.97 452.70,203.14 453.00,203.08 453.30,203.02 453.60,202.42 453.90,202.27 454.20,202.29 454.50,202.45 454.80,202.37 455.10,202.21 455.40,201.93 455.70,202.04 456.00,201.65 456.30,201.67 456.60,200.89 456.90,200.72 457.20,200.98 457.50,201.13 457.80,200.25 458.10,200.79 458.40,200.59 458.70,200.85 459.00,200.28 459.30,200.27 459.60,200.34 459.90,200.76 460.20,200.53 460.50,201.15 460.80,200.97 461.10,201.24 461.40,201.03 461.70,201.47 462.00,201.58 462.30,201.38 462.60,201.52 462.90,201.27 463.20,201.40 463.50,201.28 463.80,201.45 464.10,201.47 464.40,201.42 464.70,201.90 465.00,202.03 465.30,201.58 465.60,202.32 465.90,203.01 466.20,205.20 466.50,205.20 466.80,205.20 467.10,205.20 467.40,205.20 467.70,205.20 468.00,205.20 468.30,205.20 468.60,205.20 468.90,205.20 469.20,205.20 469.50,205.20 469.80,205.20 470.10,205.20 470.40,205.20 470.70,205.20 471.00,205.20 471.30,205.20 471.60,205.20 471.90,205.20 472.20,205.20 472.50,205.20 472.80,205.20 473.10,205.20 473.40,205.20 473.70,205.20 474.00,205.20 474.30,205.20 474.60,205.20 474.90,205.20 475.20,205.20 475.50,205.20 475.80,205.20 476.10,203.79 476.40,201.56 476.70,200.80 477.00,200.74 477.30,201.00 477.60,200.90 477.90,200.82 478.20,201.47 478.50,201.10 478.80,201.12 479.10,200.80 479.40,200.83 479.70,200.81 480.00,201.04 480.30,200.74 480.60,200.94 480.90,200.93 481.20,201.38 481.50,201.57 481.80,201.47 482.10,201.25 482.40,201.05 482.70,198.94 483.00,198.46 483.30,197.51 483.60,196.66 483.90,195.70 484.20,195.24 484.50,195.52 484.80,192.83 485.10,192.08 485.40,191.88 485.70,190.96 486.00,189.73 486.30,190.81 486.60,187.75 486.90,188.62 487.20,198.85 487.50,203.67 487.80,203.45 488.10,203.70 488.40,203.44 488.70,203.33 489.00,203.56 489.30,203.62 489.60,187.53 489.90,186.79 490.20,186.48 490.50,187.03 490.80,186.94 491.10,199.14 491.40,204.18 491.70,204.14 492.00,203.95 492.30,204.12 492.60,204.02 492.90,204.24 493.20,204.22 493.50,204.14 493.80,203.98 494.10,203.97 494.40,203.98 494.70,204.13 495.00,204.04 495.30,204.06 495.60,204.06 495.90,204.19 496.20,203.90 496.50,204.16 496.80,203.86 497.10,203.88 497.40,204.23 497.70,204.06 498.00,203.93 498.30,203.87 498.60,204.07 498.90,204.14 499.20,204.16 499.50,203.88 499.80,204.16 500.10,204.02 500.40,204.19 500.70,204.04 501.00,203.87 501.30,204.19 501.60,185.77 501.90,186.94 502.20,185.52 502.50,186.21 502.80,198.45 503.10,203.37 503.40,203.57 503.70,203.79 504.00,195.43 504.30,191.97 504.60,189.76 504.90,187.99 505.20,188.31 505.50,188.26 505.80,189.07 506.10,188.04 506.40,191.47 506.70,189.87 507.00,190.38 507.30,193.40 507.60,192.35 507.90,193.95 508.20,194.63 508.50,196.88 508.80,197.72 509.10,198.80 509.40,199.44 509.70,201.31 510.00,202.86 510.30,204.17 510.60,206.00 510.60,206.00" fill="#e8232a"/>
<line x1="416.70" y1="206.75" x2="510.60" y2="206.75" stroke="#b0b0b0" stroke-width="0.6"/>
<line x1="416.70" y1="206.00" x2="510.60" y2="206.00" stroke="#8f151a" stroke-width="1.05"/>
<polygon points="416.70,230.40 416.70,228.85 417.00,229.02 417.30,228.98 417.60,228.45 417.90,228.84 418.20,229.67 418.50,230.20 418.80,230.20 419.10,230.20 419.40,230.20 419.70,230.20 420.00,230.20 420.30,230.20 420.60,230.20 420.90,230.20 421.20,230.20 421.50,230.20 421.80,230.20 422.10,230.20 422.40,230.20 422.70,230.20 423.00,230.20 423.30,230.20 423.60,230.20 423.90,230.20 424.20,230.20 424.50,230.20 424.80,230.20 425.10,230.20 425.40,230.20 425.70,230.20 426.00,230.20 426.30,230.20 426.60,230.20 426.90,230.20 427.20,230.20 427.50,230.20 427.80,230.20 428.10,230.20 428.40,230.20 428.70,230.20 429.00,230.20 429.30,230.20 429.60,230.20 429.90,230.20 430.20,228.53 430.50,228.34 430.80,228.30 431.10,228.03 431.40,228.32 431.70,228.11 432.00,227.48 432.30,227.52 432.60,227.56 432.90,227.72 433.20,227.38 433.50,227.32 433.80,227.72 434.10,227.49 434.40,228.22 434.70,227.41 435.00,227.71 435.30,227.32 435.60,227.42 435.90,227.82 436.20,228.11 436.50,227.09 436.80,228.06 437.10,227.69 437.40,227.86 437.70,227.94 438.00,227.47 438.30,227.24 438.60,228.06 438.90,227.66 439.20,228.07 439.50,227.82 439.80,228.02 440.10,228.25 440.40,228.16 440.70,228.02 441.00,227.11 441.30,227.49 441.60,227.74 441.90,226.75 442.20,226.50 442.50,227.15 442.80,227.49 443.10,227.33 443.40,227.39 443.70,226.91 444.00,227.22 444.30,226.89 444.60,226.77 444.90,226.13 445.20,225.64 445.50,226.03 445.80,226.72 446.10,226.84 446.40,226.80 446.70,227.15 447.00,227.33 447.30,227.82 447.60,227.66 447.90,226.94 448.20,227.97 448.50,227.47 448.80,227.27 449.10,226.93 449.40,227.72 449.70,227.61 450.00,227.60 450.30,227.36 450.60,227.25 450.90,226.51 451.20,226.61 451.50,226.53 451.80,227.69 452.10,227.62 452.40,226.49 452.70,226.05 453.00,226.58 453.30,226.26 453.60,227.14 453.90,226.33 454.20,225.21 454.50,225.25 454.80,225.04 455.10,224.75 455.40,226.29 455.70,226.65 456.00,226.67 456.30,226.10 456.60,225.94 456.90,225.62 457.20,226.12 457.50,226.36 457.80,226.30 458.10,226.84 458.40,226.66 458.70,227.42 459.00,226.22 459.30,227.05 459.60,225.91 459.90,226.31 460.20,226.83 460.50,227.09 460.80,226.85 461.10,226.20 461.40,226.15 461.70,227.15 462.00,227.26 462.30,226.58 462.60,226.53 462.90,226.88 463.20,227.18 463.50,226.65 463.80,227.58 464.10,227.19 464.40,227.01 464.70,226.34 465.00,226.84 465.30,226.56 465.60,227.17 465.90,228.32 466.20,229.80 466.50,229.80 466.80,229.80 467.10,229.80 467.40,229.80 467.70,229.80 468.00,229.80 468.30,229.80 468.60,229.80 468.90,229.80 469.20,229.80 469.50,229.80 469.80,229.80 470.10,229.80 470.40,229.80 470.70,229.80 471.00,229.80 471.30,229.80 471.60,229.80 471.90,229.80 472.20,229.80 472.50,229.80 472.80,229.80 473.10,229.80 473.40,229.80 473.70,229.80 474.00,229.80 474.30,229.80 474.60,229.80 474.90,229.80 475.20,229.80 475.50,229.80 475.80,229.80 476.10,229.27 476.40,227.21 476.70,227.47 477.00,227.90 477.30,228.20 477.60,227.62 477.90,227.39 478.20,227.66 478.50,227.83 478.80,227.31 479.10,226.96 479.40,227.79 479.70,228.01 480.00,227.60 480.30,227.47 480.60,227.11 480.90,227.71 481.20,226.90 481.50,226.95 481.80,227.23 482.10,227.60 482.40,226.54 482.70,227.43 483.00,226.76 483.30,227.57 483.60,227.59 483.90,226.88 484.20,227.51 484.50,226.66 484.80,227.27 485.10,227.69 485.40,227.65 485.70,227.41 486.00,227.10 486.30,226.75 486.60,227.80 486.90,227.49 487.20,228.62 487.50,228.58 487.80,229.11 488.10,229.17 488.40,229.16 488.70,228.95 489.00,228.63 489.30,228.63 489.60,225.39 489.90,224.88 490.20,225.01 490.50,226.17 490.80,226.44 491.10,227.40 491.40,228.72 491.70,229.18 492.00,228.77 492.30,228.96 492.60,228.96 492.90,228.99 493.20,229.09 493.50,229.20 493.80,229.02 494.10,228.98 494.40,228.59 494.70,229.12 495.00,228.58 495.30,229.07 495.60,228.97 495.90,228.67 496.20,228.67 496.50,228.92 496.80,229.17 497.10,228.90 497.40,228.96 497.70,228.61 498.00,229.08 498.30,228.97 498.60,228.63 498.90,229.18 499.20,228.94 499.50,228.68 499.80,228.71 500.10,229.17 500.40,229.18 500.70,229.16 501.00,228.61 501.30,229.04 501.60,225.57 501.90,225.30 502.20,226.33 502.50,226.45 502.80,227.45 503.10,228.64 503.40,228.68 503.70,228.06 504.00,228.21 504.30,227.66 504.60,227.48 504.90,225.59 505.20,225.20 505.50,225.93 505.80,225.62 506.10,227.34 506.40,227.18 506.70,227.01 507.00,226.55 507.30,226.78 507.60,227.69 507.90,228.02 508.20,228.00 508.50,228.13 508.80,227.93 509.10,228.75 509.40,228.47 509.70,228.73 510.00,228.89 510.30,229.13 510.60,230.40 510.60,230.40" fill="#23509e"/>
<line x1="416.70" y1="231.15" x2="510.60" y2="231.15" stroke="#b0b0b0" stroke-width="0.6"/>
<line x1="416.70" y1="230.40" x2="510.60" y2="230.40" stroke="#153161" stroke-width="1.05"/>
<polygon points="416.70,254.60 416.70,254.10 417.00,252.31 417.30,251.35 417.60,251.36 417.90,251.32 418.20,250.97 418.50,253.47 418.80,254.40 419.10,254.40 419.40,254.40 419.70,254.40 420.00,254.40 420.30,254.40 420.60,254.40 420.90,254.40 421.20,254.40 421.50,254.40 421.80,254.40 422.10,254.40 422.40,254.40 422.70,254.40 423.00,254.40 423.30,254.40 423.60,254.40 423.90,254.40 424.20,254.40 424.50,254.40 424.80,254.40 425.10,254.40 425.40,254.40 425.70,254.40 426.00,254.40 426.30,254.40 426.60,254.40 426.90,254.40 427.20,254.40 427.50,254.40 427.80,254.40 428.10,254.40 428.40,254.40 428.70,254.40 429.00,254.40 429.30,254.40 429.60,254.40 429.90,254.40 430.20,252.75 430.50,251.51 430.80,251.87 431.10,252.00 431.40,252.03 431.70,251.65 432.00,251.82 432.30,251.34 432.60,251.41 432.90,251.34 433.20,251.86 433.50,251.99 433.80,251.98 434.10,251.69 434.40,251.54 434.70,251.73 435.00,251.88 435.30,251.75 435.60,251.60 435.90,251.56 436.20,251.51 436.50,251.44 436.80,251.57 437.10,251.96 437.40,251.44 437.70,251.84 438.00,251.64 438.30,251.78 438.60,251.52 438.90,251.91 439.20,251.87 439.50,251.87 439.80,251.94 440.10,251.40 440.40,251.59 440.70,251.74 441.00,251.65 441.30,251.17 441.60,251.50 441.90,251.68 442.20,251.19 442.50,251.28 442.80,250.97 443.10,251.65 443.40,251.31 443.70,251.00 444.00,250.94 444.30,250.84 444.60,251.55 444.90,251.30 445.20,251.41 445.50,251.30 445.80,250.54 446.10,250.84 446.40,250.47 446.70,250.93 447.00,250.41 447.30,250.76 447.60,250.89 447.90,250.33 448.20,250.10 448.50,250.90 448.80,250.35 449.10,250.27 449.40,250.64 449.70,250.43 450.00,250.62 450.30,250.45 450.60,250.28 450.90,249.77 451.20,249.59 451.50,250.02 451.80,250.15 452.10,249.64 452.40,249.07 452.70,249.61 453.00,249.33 453.30,249.37 453.60,248.42 453.90,248.65 454.20,249.25 454.50,249.09 454.80,248.53 455.10,248.21 455.40,248.05 455.70,248.90 456.00,248.77 456.30,247.91 456.60,248.34 456.90,248.53 457.20,248.47 457.50,247.43 457.80,248.43 458.10,248.01 458.40,248.33 458.70,248.21 459.00,247.47 459.30,247.24 459.60,248.25 459.90,248.50 460.20,247.62 460.50,248.47 460.80,248.79 461.10,247.31 461.40,248.08 461.70,247.42 462.00,248.09 462.30,247.29 462.60,247.98 462.90,248.47 463.20,248.70 463.50,247.80 463.80,247.64 464.10,247.18 464.40,248.54 464.70,247.64 465.00,248.05 465.30,247.82 465.60,248.41 465.90,250.01 466.20,253.62 466.50,253.53 466.80,253.72 467.10,253.63 467.40,253.56 467.70,253.52 468.00,253.70 468.30,253.72 468.60,253.52 468.90,253.52 469.20,253.63 469.50,253.74 469.80,253.53 470.10,253.66 470.40,253.53 470.70,253.60 471.00,253.55 471.30,253.71 471.60,253.56 471.90,253.70 472.20,253.65 472.50,253.55 472.80,253.55 473.10,253.71 473.40,253.70 473.70,253.65 474.00,253.63 474.30,253.66 474.60,253.72 474.90,253.69 475.20,253.58 475.50,253.53 475.80,253.74 476.10,252.14 476.40,248.92 476.70,249.85 477.00,248.76 477.30,249.70 477.60,249.03 477.90,249.07 478.20,248.94 478.50,249.35 478.80,249.17 479.10,248.92 479.40,249.12 479.70,248.77 480.00,249.04 480.30,249.03 480.60,249.59 480.90,248.73 481.20,248.88 481.50,249.22 481.80,248.44 482.10,248.39 482.40,248.52 482.70,248.22 483.00,247.29 483.30,247.56 483.60,247.13 483.90,246.10 484.20,246.43 484.50,245.22 484.80,244.63 485.10,245.41 485.40,243.43 485.70,244.53 486.00,242.26 486.30,241.68 486.60,242.04 486.90,243.08 487.20,248.61 487.50,252.25 487.80,251.90 488.10,252.39 488.40,251.96 488.70,251.88 489.00,252.04 489.30,251.99 489.60,242.50 489.90,239.94 490.20,241.53 490.50,240.03 490.80,240.16 491.10,249.71 491.40,253.04 491.70,252.99 492.00,253.30 492.30,253.20 492.60,253.05 492.90,253.27 493.20,253.00 493.50,253.23 493.80,253.03 494.10,253.27 494.40,253.14 494.70,252.99 495.00,253.25 495.30,253.23 495.60,253.14 495.90,253.21 496.20,253.31 496.50,253.26 496.80,253.27 497.10,252.99 497.40,253.08 497.70,253.00 498.00,253.26 498.30,253.04 498.60,253.28 498.90,253.13 499.20,253.10 499.50,253.20 499.80,253.01 500.10,253.13 500.40,253.12 500.70,253.01 501.00,253.29 501.30,252.97 501.60,241.08 501.90,241.85 502.20,240.54 502.50,242.27 502.80,247.89 503.10,252.13 503.40,252.26 503.70,252.02 504.00,245.99 504.30,245.36 504.60,242.57 504.90,243.36 505.20,240.84 505.50,243.10 505.80,242.46 506.10,242.03 506.40,243.65 506.70,243.98 507.00,245.35 507.30,246.61 507.60,247.05 507.90,247.34 508.20,247.02 508.50,247.92 508.80,248.37 509.10,248.58 509.40,250.52 509.70,251.35 510.00,252.02 510.30,253.29 510.60,254.60 510.60,254.60" fill="#2b8a3e"/>
<line x1="416.70" y1="255.35" x2="510.60" y2="255.35" stroke="#b0b0b0" stroke-width="0.6"/>
<line x1="416.70" y1="254.60" x2="510.60" y2="254.60" stroke="#1a5526" stroke-width="1.05"/>
<rect x="464.30" y="185.50" width="18.00" height="110.70" fill="none" stroke="#aaa" stroke-width="0.6"/>
<text x="473.30" y="201.73" font-size="4.8" text-anchor="middle">248</text>
<text x="473.30" y="211.73" font-size="4.8" text-anchor="middle">348</text>
<text x="473.30" y="227.43" font-size="4.8" text-anchor="middle">131</text>
<text x="473.30" y="236.93" font-size="4.8" text-anchor="middle">57</text>
<text x="473.30" y="248.43" font-size="4.8" text-anchor="middle">330</text>
<text x="473.30" y="260.73" font-size="4.8" text-anchor="middle">232</text>
<text x="520.00" y="202.13" font-size="4.8">Leaf</text>
<text x="520.00" y="225.73" font-size="4.8">Root</text>
<text x="520.00" y="250.73" font-size="4.8">Stem</text>
<polyline points="518.30,200.40 515.90,200.40 515.90,249.00 518.30,249.00" fill="none" stroke="#c9a48a" stroke-width="0.6"/>
<polyline points="531.00,200.40 532.80,200.40 532.80,224.00 531.00,224.00" fill="none" stroke="#c9a48a" stroke-width="0.6"/>
<text x="535.00" y="209.78" font-size="4.4">down</text>
<text x="535.00" y="214.98" font-size="4.4">ΔPSI = -0.20</text>
<text x="517.00" y="237.88" font-size="4.4">down</text>
<text x="517.00" y="243.48" font-size="4.4">ΔPSI = -0.16</text>
<line x1="418.30" y1="265.00" x2="479.60" y2="265.00" stroke="#a0a0a0" stroke-width="0.8"/>
<rect x="418.30" y="263.05" width="1.50" height="3.90" fill="#0f3d9e"/>
<rect x="430.50" y="263.05" width="34.80" height="3.90" fill="#0f3d9e"/>
<rect x="476.00" y="263.05" width="3.60" height="3.90" fill="#0f3d9e"/>
<line x1="416.20" y1="270.20" x2="482.00" y2="270.20" stroke="#a0a0a0" stroke-width="0.8"/>
<rect x="416.20" y="268.25" width="2.30" height="3.90" fill="#0f3d9e"/>
<rect x="430.50" y="268.25" width="34.80" height="3.90" fill="#0f3d9e"/>
<rect x="463.10" y="269.30" width="1.40" height="1.80" fill="#c0392b"/>
<rect x="476.00" y="268.25" width="6.00" height="3.90" fill="#0f3d9e"/>
<line x1="441.40" y1="275.60" x2="480.00" y2="275.60" stroke="#a0a0a0" stroke-width="0.8"/>
<rect x="441.40" y="273.65" width="23.90" height="3.90" fill="#0f3d9e"/>
<rect x="476.00" y="273.65" width="4.00" height="3.90" fill="#0f3d9e"/>
<line x1="459.80" y1="280.90" x2="509.00" y2="280.90" stroke="#a0a0a0" stroke-width="0.8"/>
<rect x="459.80" y="278.95" width="5.50" height="3.90" fill="#0f3d9e"/>
<rect x="463.10" y="280.00" width="1.40" height="1.80" fill="#c0392b"/>
<rect x="476.00" y="278.95" width="11.00" height="3.90" fill="#0f3d9e"/>
<rect x="489.60" y="278.95" width="1.00" height="3.90" fill="#0f3d9e"/>
<rect x="501.60" y="278.95" width="1.00" height="3.90" fill="#0f3d9e"/>
<rect x="504.80" y="278.95" width="4.20" height="3.90" fill="#0f3d9e"/>
<line x1="460.00" y1="285.80" x2="510.00" y2="285.80" stroke="#a0a0a0" stroke-width="0.8"/>
<rect x="460.00" y="283.85" width="5.30" height="3.90" fill="#0f3d9e"/>
<rect x="463.10" y="284.90" width="1.40" height="1.80" fill="#2e9e44"/>
<rect x="481.00" y="283.85" width="6.00" height="3.90" fill="#0f3d9e"/>
<rect x="489.60" y="283.85" width="1.00" height="3.90" fill="#0f3d9e"/>
<rect x="504.80" y="283.85" width="5.20" height="3.90" fill="#0f3d9e"/>
<rect x="509.30" y="289.05" width="1.00" height="3.90" fill="#0f3d9e"/>
<text x="515.00" y="266.55" font-size="4.3">PB.15542.1</text>
<text x="515.00" y="271.75" font-size="4.3">PB.15542.2</text>
<text x="515.00" y="277.15" font-size="4.3">PB.15542.3</text>
<text x="515.00" y="282.45" font-size="4.3">PB.15542.4</text>
<text x="515.00" y="287.35" font-size="4.3">PB.15542.5</text>
<text x="515.00" y="292.55" font-size="4.3">PB.15542.6</text>
<text x="570.00" y="178.06" font-size="7.4" fill="#111"><tspan font-style="italic">CsFAR1 - Cs10G0001100</tspan> - IR - "-"</text>
<polygon points="570.00,204.20 570.00,203.70 570.50,201.44 571.00,198.59 571.50,197.63 572.00,195.78 572.50,194.71 573.00,192.32 573.50,191.25 574.00,191.50 574.50,189.02 575.00,190.29 575.50,192.54 576.00,191.30 576.50,194.57 577.00,196.05 577.50,196.55 578.00,195.84 578.50,195.83 579.00,196.45 579.50,197.54 580.00,198.17 580.50,198.73 581.00,197.94 581.50,198.24 582.00,198.72 582.50,198.49 583.00,198.94 583.50,198.56 584.00,199.07 584.50,203.29 585.00,203.13 585.50,203.34 586.00,203.22 586.50,203.25 587.00,203.29 587.50,203.34 588.00,203.16 588.50,203.35 589.00,203.22 589.50,203.12 590.00,203.32 590.50,201.96 591.00,201.71 591.50,201.77 592.00,201.69 592.50,201.59 593.00,201.08 593.50,200.04 594.00,199.31 594.50,198.94 595.00,196.86 595.50,196.21 596.00,195.52 596.50,196.22 597.00,193.41 597.50,192.75 598.00,192.66 598.50,189.69 599.00,188.64 599.50,204.20 600.00,204.20 600.50,204.20 601.00,204.20 601.50,204.20 602.00,204.20 602.50,204.20 603.00,204.20 603.50,204.20 604.00,204.20 604.50,204.20 605.00,204.20 605.50,204.20 606.00,204.20 606.50,204.20 607.00,204.20 607.50,204.20 608.00,204.20 608.50,204.20 609.00,204.20 609.50,204.20 610.00,204.20 610.50,204.20 611.00,204.20 611.50,185.92 612.00,187.73 612.50,188.43 613.00,190.45 613.50,190.24 614.00,189.78 614.50,190.98 615.00,191.57 615.50,192.46 616.00,194.15 616.50,193.88 617.00,194.65 617.50,194.24 618.00,195.26 618.50,196.21 619.00,195.83 619.50,195.64 620.00,197.43 620.50,196.53 621.00,198.26 621.50,198.10 622.00,198.38 622.50,197.87 623.00,197.87 623.50,198.43 624.00,199.24 624.50,198.82 625.00,199.74 625.50,200.01 626.00,199.46 626.50,199.93 627.00,200.05 627.50,200.26 628.00,200.16 628.50,200.79 629.00,200.67 629.50,200.96 630.00,201.03 630.50,201.43 631.00,201.33 631.50,201.54 632.00,201.80 632.50,201.95 633.00,201.80 633.50,202.20 634.00,201.85 634.50,202.34 635.00,202.49 635.50,202.51 636.00,202.20 636.50,202.53 637.00,202.68 637.50,202.79 638.00,202.84 638.50,202.67 639.00,202.76 639.50,202.81 640.00,202.87 640.50,203.11 641.00,202.99 641.50,203.09 642.00,203.01 642.50,203.05 643.00,203.07 643.50,203.32 644.00,203.16 644.50,203.19 645.00,203.23 645.50,203.43 646.00,203.42 646.50,203.46 647.00,203.49 647.50,203.35 648.00,203.41 648.50,203.43 649.00,203.44 649.50,203.46 650.00,203.48 650.50,203.50 651.00,203.52 651.50,203.53 652.00,203.55 652.50,203.57 653.00,203.59 653.30,204.20" fill="#e8232a"/>
<line x1="570.00" y1="204.95" x2="653.30" y2="204.95" stroke="#b0b0b0" stroke-width="0.6"/>
<line x1="570.00" y1="204.20" x2="653.30" y2="204.20" stroke="#8f151a" stroke-width="1.05"/>
<polygon points="570.00,228.50 570.00,228.00 570.50,227.32 571.00,226.75 571.50,226.01 572.00,225.50 572.50,225.10 573.00,224.65 573.50,224.05 574.00,222.52 574.50,223.67 575.00,223.93 575.50,224.22 576.00,224.79 576.50,224.70 577.00,224.83 577.50,224.50 578.00,224.90 578.50,225.02 579.00,224.54 579.50,225.02 580.00,224.81 580.50,225.12 581.00,225.70 581.50,225.51 582.00,225.60 582.50,225.48 583.00,225.89 583.50,225.98 584.00,226.39 584.50,226.85 585.00,226.91 585.50,227.21 586.00,226.97 586.50,227.22 587.00,227.30 587.50,227.25 588.00,227.08 588.50,227.04 589.00,227.37 589.50,227.23 590.00,227.26 590.50,227.18 591.00,227.39 591.50,227.32 592.00,227.38 592.50,227.03 593.00,227.04 593.50,226.56 594.00,226.66 594.50,226.40 595.00,225.79 595.50,225.59 596.00,225.58 596.50,224.82 597.00,225.02 597.50,223.48 598.00,222.74 598.50,215.83 599.00,216.29 599.50,222.79 600.00,228.50 600.50,228.50 601.00,228.50 601.50,228.50 602.00,228.50 602.50,228.50 603.00,228.50 603.50,228.50 604.00,228.50 604.50,228.50 605.00,228.50 605.50,228.50 606.00,228.50 606.50,228.50 607.00,228.50 607.50,228.50 608.00,228.50 608.50,228.50 609.00,228.50 609.50,228.50 610.00,228.50 610.50,228.50 611.00,228.50 611.50,214.42 612.00,215.04 612.50,214.01 613.00,217.18 613.50,215.02 614.00,217.93 614.50,217.68 615.00,217.82 615.50,216.74 616.00,218.46 616.50,219.40 617.00,218.94 617.50,220.59 618.00,220.37 618.50,220.48 619.00,220.32 619.50,220.60 620.00,221.06 620.50,221.77 621.00,221.98 621.50,222.44 622.00,221.51 622.50,221.99 623.00,222.06 623.50,223.09 624.00,222.88 624.50,222.61 625.00,223.06 625.50,223.76 626.00,223.43 626.50,223.01 627.00,223.91 627.50,224.06 628.00,224.04 628.50,223.68 629.00,223.64 629.50,224.50 630.00,224.60 630.50,224.56 631.00,224.55 631.50,224.41 632.00,224.84 632.50,224.74 633.00,224.94 633.50,224.26 634.00,224.56 634.50,225.20 635.00,224.50 635.50,225.33 636.00,225.15 636.50,224.71 637.00,224.94 637.50,225.06 638.00,225.37 638.50,225.62 639.00,225.35 639.50,225.81 640.00,225.80 640.50,225.70 641.00,225.98 641.50,225.75 642.00,225.51 642.50,225.60 643.00,225.76 643.50,225.71 644.00,225.85 644.50,226.09 645.00,225.81 645.50,225.97 646.00,225.79 646.50,225.71 647.00,226.04 647.50,225.98 648.00,225.90 648.50,226.13 649.00,226.27 649.50,226.01 650.00,225.95 650.50,226.05 651.00,226.12 651.50,226.06 652.00,226.19 652.50,226.24 653.00,226.37 653.30,228.50" fill="#23509e"/>
<line x1="570.00" y1="229.25" x2="653.30" y2="229.25" stroke="#b0b0b0" stroke-width="0.6"/>
<line x1="570.00" y1="228.50" x2="653.30" y2="228.50" stroke="#153161" stroke-width="1.05"/>
<polygon points="570.00,253.20 570.00,252.70 570.50,251.93 571.00,250.95 571.50,250.47 572.00,249.40 572.50,248.35 573.00,247.74 573.50,247.17 574.00,247.11 574.50,246.19 575.00,246.17 575.50,246.08 576.00,246.64 576.50,246.41 577.00,246.22 577.50,247.61 578.00,247.16 578.50,247.24 579.00,248.01 579.50,248.12 580.00,247.78 580.50,248.98 581.00,248.46 581.50,248.98 582.00,248.36 582.50,248.27 583.00,248.81 583.50,249.81 584.00,249.99 584.50,250.63 585.00,251.16 585.50,251.29 586.00,251.26 586.50,251.21 587.00,251.39 587.50,251.47 588.00,251.28 588.50,251.62 589.00,251.46 589.50,251.62 590.00,251.50 590.50,251.79 591.00,251.49 591.50,251.76 592.00,251.90 592.50,251.48 593.00,251.07 593.50,250.96 594.00,250.35 594.50,249.63 595.00,248.62 595.50,248.29 596.00,247.72 596.50,247.10 597.00,245.49 597.50,244.33 598.00,244.41 598.50,243.52 599.00,240.21 599.50,253.20 600.00,253.20 600.50,253.20 601.00,253.20 601.50,253.20 602.00,253.20 602.50,253.20 603.00,253.20 603.50,253.20 604.00,253.20 604.50,253.20 605.00,253.20 605.50,253.20 606.00,253.20 606.50,253.20 607.00,253.20 607.50,253.20 608.00,253.20 608.50,253.20 609.00,253.20 609.50,253.20 610.00,253.20 610.50,253.20 611.00,253.20 611.50,240.07 612.00,241.11 612.50,241.80 613.00,240.29 613.50,240.69 614.00,241.67 614.50,242.37 615.00,242.37 615.50,243.48 616.00,241.85 616.50,243.62 617.00,243.17 617.50,243.03 618.00,243.33 618.50,244.39 619.00,245.04 619.50,244.77 620.00,245.90 620.50,244.66 621.00,245.76 621.50,244.99 622.00,246.23 622.50,246.19 623.00,246.57 623.50,246.43 624.00,246.99 624.50,247.44 625.00,246.45 625.50,247.26 626.00,247.44 626.50,247.47 627.00,247.33 627.50,247.53 628.00,247.36 628.50,247.46 629.00,247.99 629.50,247.37 630.00,247.61 630.50,248.73 631.00,247.90 631.50,247.94 632.00,248.22 632.50,249.07 633.00,248.42 633.50,248.77 634.00,249.53 634.50,249.64 635.00,248.83 635.50,249.25 636.00,249.74 636.50,249.99 637.00,250.06 637.50,250.10 638.00,249.78 638.50,250.24 639.00,250.50 639.50,250.08 640.00,250.29 640.50,250.73 641.00,250.27 641.50,250.49 642.00,250.40 642.50,250.50 643.00,250.38 643.50,250.47 644.00,250.47 644.50,250.89 645.00,250.61 645.50,250.73 646.00,250.63 646.50,250.84 647.00,250.60 647.50,250.82 648.00,251.01 648.50,251.05 649.00,251.12 649.50,250.95 650.00,251.21 650.50,251.00 651.00,251.19 651.50,251.02 652.00,251.03 652.50,251.02 653.00,250.86 653.30,253.20" fill="#2b8a3e"/>
<line x1="570.00" y1="253.95" x2="653.30" y2="253.95" stroke="#b0b0b0" stroke-width="0.6"/>
<line x1="570.00" y1="253.20" x2="653.30" y2="253.20" stroke="#1a5526" stroke-width="1.05"/>
<rect x="648.80" y="184.20" width="4.40" height="115.80" fill="none" stroke="#aaa" stroke-width="0.6"/>
<text x="650.30" y="202.03" font-size="4.8" text-anchor="middle">169</text>
<text x="650.30" y="208.63" font-size="4.8" text-anchor="middle">21</text>
<text x="650.30" y="224.73" font-size="4.8" text-anchor="middle">277</text>
<text x="650.30" y="233.73" font-size="4.8" text-anchor="middle">144</text>
<text x="650.30" y="247.73" font-size="4.8" text-anchor="middle">327</text>
<text x="650.30" y="257.93" font-size="4.8" text-anchor="middle">165</text>
<text x="663.70" y="199.43" font-size="4.8">Leaf</text>
<text x="663.70" y="223.43" font-size="4.8">Root</text>
<text x="663.70" y="248.13" font-size="4.8">Stem</text>
<polyline points="659.20,197.70 657.00,197.70 657.00,246.40 659.20,246.40" fill="none" stroke="#c9a48a" stroke-width="0.6"/>
<polyline points="662.50,197.70 661.00,197.70 661.00,221.70 662.50,221.70" fill="none" stroke="#c9a48a" stroke-width="0.6"/>
<text x="660.80" y="208.58" font-size="4.4">up</text>
<text x="660.30" y="213.38" font-size="4.4">ΔPSI = 0.26</text>
<text x="658.00" y="233.78" font-size="4.4">up</text>
<text x="658.00" y="238.98" font-size="4.4">ΔPSI = 0.26</text>
<rect x="570.00" y="261.05" width="25.10" height="3.90" fill="#0f3d9e"/>
<line x1="570.00" y1="268.70" x2="653.30" y2="268.70" stroke="#a0a0a0" stroke-width="0.8"/>
<rect x="570.00" y="266.75" width="13.80" height="3.90" fill="#0f3d9e"/>
<rect x="590.10" y="266.75" width="9.90" height="3.90" fill="#0f3d9e"/>
<rect x="611.30" y="266.75" width="42.00" height="3.90" fill="#0f3d9e"/>
<rect x="647.50" y="267.80" width="1.40" height="1.80" fill="#c0392b"/>
<line x1="570.00" y1="273.70" x2="612.80" y2="273.70" stroke="#a0a0a0" stroke-width="0.8"/>
<rect x="570.00" y="271.75" width="13.80" height="3.90" fill="#0f3d9e"/>
<rect x="590.10" y="271.75" width="9.90" height="3.90" fill="#0f3d9e"/>
<rect x="611.30" y="271.75" width="1.50" height="3.90" fill="#0f3d9e"/>
<line x1="595.10" y1="279.00" x2="634.60" y2="279.00" stroke="#a0a0a0" stroke-width="0.8"/>
<rect x="595.10" y="277.05" width="4.90" height="3.90" fill="#0f3d9e"/>
<rect x="611.30" y="277.05" width="23.30" height="3.90" fill="#0f3d9e"/>
<line x1="595.10" y1="284.50" x2="653.30" y2="284.50" stroke="#a0a0a0" stroke-width="0.8"/>
<rect x="595.10" y="282.55" width="4.90" height="3.90" fill="#0f3d9e"/>
<rect x="611.30" y="282.55" width="42.00" height="3.90" fill="#0f3d9e"/>
<rect x="647.50" y="283.60" width="1.40" height="1.80" fill="#c0392b"/>
<line x1="595.10" y1="289.90" x2="612.50" y2="289.90" stroke="#a0a0a0" stroke-width="0.8"/>
<rect x="595.10" y="287.95" width="4.90" height="3.90" fill="#0f3d9e"/>
<rect x="611.30" y="287.95" width="1.20" height="3.90" fill="#0f3d9e"/>
<line x1="595.10" y1="294.90" x2="653.30" y2="294.90" stroke="#a0a0a0" stroke-width="0.8"/>
<rect x="595.10" y="292.95" width="4.90" height="3.90" fill="#0f3d9e"/>
<rect x="611.30" y="292.95" width="38.10" height="3.90" fill="#0f3d9e"/>
<rect x="646.90" y="294.00" width="1.40" height="1.80" fill="#2e9e44"/>
<rect x="650.90" y="292.95" width="2.40" height="3.90" fill="#0f3d9e"/>
<text x="657.90" y="264.55" font-size="4.3">PB.13850.1</text>
<text x="657.90" y="270.25" font-size="4.3">PB.13850.2</text>
<text x="657.90" y="275.25" font-size="4.3">PB.13850.4</text>
<text x="657.90" y="280.55" font-size="4.3">PB.13850.5</text>
<text x="657.90" y="286.05" font-size="4.3">PB.13850.6</text>
<text x="657.90" y="291.45" font-size="4.3">PB.13850.7</text>
<text x="657.90" y="296.45" font-size="4.3">PB.13850.8</text>
<text x="315.00" y="326.36" font-size="7.4" fill="#111"><tspan font-style="italic">CsUGT.35 - Cs7G0126700</tspan> &#160;- RI - RI - "-"</text>
<polygon points="293.60,362.30 293.60,362.19 293.95,361.61 294.30,360.06 294.65,359.35 295.00,357.99 295.35,356.47 295.70,354.52 296.05,355.29 296.40,354.14 296.75,350.08 297.10,354.44 297.45,349.79 297.80,348.72 298.15,352.88 298.50,347.80 298.85,346.71 299.20,344.04 299.55,348.85 299.90,342.11 300.25,345.87 300.60,345.45 300.95,341.39 301.30,351.03 301.65,345.93 302.00,348.30 302.35,352.01 302.70,350.41 303.05,353.57 303.40,352.68 303.75,352.11 304.10,350.27 304.45,353.42 304.80,351.58 305.15,351.41 305.50,350.24 305.85,348.36 306.20,353.65 306.55,352.37 306.90,355.00 307.25,355.08 307.60,356.55 307.95,356.21 308.30,355.31 308.65,357.04 309.00,357.38 309.35,358.75 309.70,358.99 310.05,359.13 310.40,358.62 310.75,358.65 311.10,358.47 311.45,360.02 311.80,358.85 312.15,358.62 312.50,359.19 312.85,360.07 313.20,359.58 313.55,360.11 313.90,359.74 314.25,358.31 314.60,358.87 314.95,358.74 315.30,358.44 315.65,358.15 316.00,358.71 316.35,358.66 316.70,358.60 317.05,358.41 317.40,358.58 317.75,358.25 318.10,359.05 318.45,357.66 318.80,357.92 319.15,356.65 319.50,358.18 319.85,358.10 320.20,358.95 320.55,357.48 320.90,357.54 321.25,358.49 321.60,359.57 321.95,359.95 322.30,361.17 322.65,361.88 323.00,361.88 323.35,361.89 323.70,361.89 324.05,361.89 324.40,359.41 324.75,359.92 325.10,359.84 325.45,359.64 325.80,361.91 326.15,360.23 326.50,360.07 326.85,359.78 327.20,359.37 327.55,361.93 327.90,361.93 328.25,361.93 328.60,361.94 328.95,361.94 329.30,359.58 329.65,358.43 330.00,359.61 330.35,359.43 330.70,361.96 331.05,358.44 331.40,358.90 331.75,358.22 332.10,361.97 332.45,361.98 332.80,361.98 333.15,359.60 333.50,360.33 333.85,359.70 334.20,362.00 334.55,362.00 334.90,362.01 335.25,362.01 335.60,362.02 335.95,362.02 336.30,362.01 336.65,362.01 337.00,362.00 337.35,362.00 337.70,361.99 338.05,361.98 338.40,360.83 338.75,360.54 339.10,360.50 339.45,361.96 339.80,361.95 340.15,360.65 340.50,360.71 340.85,361.03 341.20,361.93 341.55,361.92 341.90,361.92 342.25,360.68 342.60,361.07 342.95,361.12 343.30,361.89 343.65,361.89 344.00,361.88 344.35,361.62 344.70,361.23 345.05,359.99 345.40,360.35 345.75,358.61 346.10,359.87 346.45,357.91 346.80,359.24 347.15,359.25 347.50,357.04 347.85,358.80 348.20,358.16 348.55,359.76 348.90,360.39 349.25,359.99 349.60,360.97 349.95,361.90 350.30,362.01 350.65,362.00 351.00,361.98 351.35,361.97 351.70,361.96 352.05,361.95 352.40,361.95 352.75,361.95 353.10,358.91 353.45,359.12 353.80,360.21 354.15,361.95 354.50,359.09 354.85,358.95 355.20,359.39 355.55,361.95 355.90,358.78 356.25,359.92 356.60,358.73 356.95,359.15 357.30,361.95 357.65,360.20 358.00,360.19 358.35,359.05 358.70,361.95 359.05,359.20 359.40,360.36 359.75,359.99 360.10,361.95 360.45,359.12 360.80,360.07 361.15,358.90 361.50,361.95 361.85,359.90 362.20,360.52 362.55,360.07 362.90,359.77 363.25,361.95 363.60,361.95 363.95,361.95 364.30,361.95 364.65,361.96 365.00,361.96 365.35,361.96 365.70,361.96 366.05,361.97 366.40,361.97 366.75,361.97 367.10,361.98 367.45,361.98 367.80,361.98 368.15,361.99 368.50,361.99 368.85,361.99 369.20,362.00 369.55,362.00 369.90,362.00 370.25,362.00 370.60,362.01 370.95,360.96 371.30,360.76 371.65,361.20 372.00,362.02 372.35,362.02 372.70,362.02 373.05,362.02 373.40,362.02 373.75,362.02 374.10,362.02 374.45,362.02 374.80,362.02 375.15,362.02 375.50,362.02 375.85,362.02 376.20,362.02 376.55,362.02 376.90,362.02 377.25,362.02 377.60,362.02 377.95,362.02 378.30,362.02 378.65,362.02 379.00,362.02 379.35,362.02 379.70,362.02 380.05,362.02 380.40,362.02 380.75,362.02 381.10,362.02 381.45,362.02 381.80,362.02 382.15,362.02 382.50,362.02 382.85,362.02 383.20,362.02 383.55,362.02 383.90,362.02 384.25,362.02 384.60,362.02 384.95,362.02 385.30,362.02 385.65,362.02 386.00,362.02 386.35,362.02 386.70,362.02 387.05,362.02 387.40,362.02 387.75,362.02 388.10,362.02 388.45,362.02 388.80,362.02 389.15,362.02 389.50,362.02 389.85,362.02 390.20,362.02 390.55,362.02 390.90,362.02 391.25,362.02 391.60,362.02 391.95,362.02 392.30,362.02 392.65,362.02 393.00,362.02 393.35,362.02 393.70,362.02 394.05,362.02 394.40,362.02 394.75,362.02 395.10,362.02 395.45,362.02 395.80,362.02 396.15,362.01 396.50,361.98 396.85,357.91 397.20,358.89 397.55,358.26 397.90,361.97 398.25,361.98 398.60,361.99 398.95,362.00 399.30,362.00 399.65,362.01 400.00,362.02 400.35,362.00 400.70,361.98 401.05,361.97 401.40,361.95 401.75,361.93 402.10,361.91 402.45,361.89 402.80,358.29 403.15,358.76 403.50,358.84 403.85,357.94 404.20,357.58 404.55,357.94 404.90,361.95 405.25,361.95 405.60,361.95 405.95,361.95 406.30,361.96 406.65,361.96 407.00,361.96 407.35,361.96 407.70,361.96 408.05,361.96 408.40,361.97 408.75,361.97 409.10,361.97 409.45,361.97 409.80,361.97 410.15,361.97 410.50,361.97 410.85,361.98 411.20,361.98 411.55,361.98 411.90,361.98 412.25,361.98 412.60,361.98 412.95,361.99 413.30,361.99 413.65,361.99 414.00,361.99 414.35,361.99 414.70,361.99 415.05,361.99 415.40,362.00 415.75,362.00 416.10,362.00 416.45,362.00 416.80,362.00 417.15,362.00 417.50,362.01 417.85,362.01 418.20,362.01 418.55,360.95 418.90,361.16 419.25,361.34 419.60,362.01 419.95,362.02 420.30,362.02 420.65,362.02 420.80,362.30" fill="#f50000"/>
<line x1="293.60" y1="363.05" x2="420.80" y2="363.05" stroke="#b0b0b0" stroke-width="0.6"/>
<line x1="293.60" y1="362.30" x2="420.80" y2="362.30" stroke="#970000" stroke-width="1.05"/>
<polygon points="293.60,385.10 293.60,385.00 293.95,384.93 294.30,384.87 294.65,384.81 295.00,384.75 295.35,384.43 295.70,383.94 296.05,383.74 296.40,383.31 296.75,383.42 297.10,382.85 297.45,382.07 297.80,381.90 298.15,381.96 298.50,382.20 298.85,381.79 299.20,380.71 299.55,381.46 299.90,380.59 300.25,380.53 300.60,379.61 300.95,379.91 301.30,381.55 301.65,382.49 302.00,382.29 302.35,382.19 302.70,382.11 303.05,381.96 303.40,382.06 303.75,383.28 304.10,382.40 304.45,382.47 304.80,382.46 305.15,382.84 305.50,383.21 305.85,382.64 306.20,382.69 306.55,382.78 306.90,382.49 307.25,383.09 307.60,383.35 307.95,382.79 308.30,382.47 308.65,383.14 309.00,382.45 309.35,382.18 309.70,382.99 310.05,382.48 310.40,382.34 310.75,382.57 311.10,382.88 311.45,382.77 311.80,382.05 312.15,381.94 312.50,382.36 312.85,382.75 313.20,381.23 313.55,380.88 313.90,381.58 314.25,380.48 314.60,379.22 314.95,378.46 315.30,378.83 315.65,378.32 316.00,377.24 316.35,378.29 316.70,377.79 317.05,377.36 317.40,374.27 317.75,375.97 318.10,375.75 318.45,377.22 318.80,377.51 319.15,379.60 319.50,380.59 319.85,378.76 320.20,381.41 320.55,382.85 320.90,382.16 321.25,382.00 321.60,382.00 321.95,381.15 322.30,381.64 322.65,381.78 323.00,382.62 323.35,382.59 323.70,380.99 324.05,384.82 324.40,384.83 324.75,384.83 325.10,384.84 325.45,382.87 325.80,383.23 326.15,383.16 326.50,384.86 326.85,384.87 327.20,384.88 327.55,383.61 327.90,383.17 328.25,383.47 328.60,384.90 328.95,384.91 329.30,382.79 329.65,382.96 330.00,382.91 330.35,382.78 330.70,384.93 331.05,384.94 331.40,384.94 331.75,384.95 332.10,384.95 332.45,384.95 332.80,384.96 333.15,384.96 333.50,384.97 333.85,384.97 334.20,384.97 334.55,384.98 334.90,384.98 335.25,384.99 335.60,384.99 335.95,384.99 336.30,385.00 336.65,385.00 337.00,385.00 337.35,385.00 337.70,385.00 338.05,385.00 338.40,385.00 338.75,385.00 339.10,385.00 339.45,385.00 339.80,385.00 340.15,385.00 340.50,385.00 340.85,385.00 341.20,385.00 341.55,385.00 341.90,385.00 342.25,383.05 342.60,383.30 342.95,383.11 343.30,385.00 343.65,385.00 344.00,385.00 344.35,385.00 344.70,385.00 345.05,384.99 345.40,384.99 345.75,384.99 346.10,384.98 346.45,384.98 346.80,384.97 347.15,382.35 347.50,382.51 347.85,382.56 348.20,382.20 348.55,381.75 348.90,382.34 349.25,381.64 349.60,384.93 349.95,384.93 350.30,384.93 350.65,384.92 351.00,384.92 351.35,384.91 351.70,384.91 352.05,384.90 352.40,384.90 352.75,384.89 353.10,383.05 353.45,383.78 353.80,383.32 354.15,384.89 354.50,383.67 354.85,383.89 355.20,383.24 355.55,383.78 355.90,384.89 356.25,383.35 356.60,383.29 356.95,383.01 357.30,384.89 357.65,384.89 358.00,383.47 358.35,383.68 358.70,383.64 359.05,384.89 359.40,384.89 359.75,384.89 360.10,383.70 360.45,383.01 360.80,382.98 361.15,384.89 361.50,384.89 361.85,383.89 362.20,384.02 362.55,383.87 362.90,383.80 363.25,384.89 363.60,384.89 363.95,383.29 364.30,383.29 364.65,383.34 365.00,384.89 365.35,384.89 365.70,384.89 366.05,384.89 366.40,384.90 366.75,384.90 367.10,384.91 367.45,384.92 367.80,384.92 368.15,384.93 368.50,384.93 368.85,384.94 369.20,384.95 369.55,384.95 369.90,384.96 370.25,384.96 370.60,384.97 370.95,384.98 371.30,384.98 371.65,384.99 372.00,385.00 372.35,385.00 372.70,385.00 373.05,385.00 373.40,385.00 373.75,385.00 374.10,385.00 374.45,385.00 374.80,385.00 375.15,385.00 375.50,385.00 375.85,385.00 376.20,385.00 376.55,385.00 376.90,385.00 377.25,385.00 377.60,385.00 377.95,385.00 378.30,385.00 378.65,385.00 379.00,385.00 379.35,385.00 379.70,385.00 380.05,385.00 380.40,385.00 380.75,385.00 381.10,385.00 381.45,385.00 381.80,385.00 382.15,385.00 382.50,385.00 382.85,385.00 383.20,385.00 383.55,385.00 383.90,385.00 384.25,385.00 384.60,385.00 384.95,385.00 385.30,385.00 385.65,385.00 386.00,385.00 386.35,385.00 386.70,385.00 387.05,385.00 387.40,385.00 387.75,385.00 388.10,385.00 388.45,385.00 388.80,385.00 389.15,385.00 389.50,385.00 389.85,385.00 390.20,385.00 390.55,385.00 390.90,385.00 391.25,385.00 391.60,385.00 391.95,385.00 392.30,385.00 392.65,385.00 393.00,385.00 393.35,385.00 393.70,385.00 394.05,385.00 394.40,385.00 394.75,385.00 395.10,385.00 395.45,385.00 395.80,385.00 396.15,384.99 396.50,383.29 396.85,382.41 397.20,382.50 397.55,384.91 397.90,384.89 398.25,384.87 398.60,384.85 398.95,384.83 399.30,384.81 399.65,384.78 400.00,384.76 400.35,384.74 400.70,384.72 401.05,384.70 401.40,384.68 401.75,384.66 402.10,384.64 402.45,384.62 402.80,384.60 403.15,384.58 403.50,382.57 403.85,382.17 404.20,383.28 404.55,383.18 404.90,384.58 405.25,384.58 405.60,382.76 405.95,382.57 406.30,382.85 406.65,384.58 407.00,384.58 407.35,384.58 407.70,384.58 408.05,384.58 408.40,384.68 408.75,384.86 409.10,384.99 409.45,384.99 409.80,384.99 410.15,384.99 410.50,384.99 410.85,384.98 411.20,384.98 411.55,384.98 411.90,384.98 412.25,384.98 412.60,384.97 412.95,384.97 413.30,384.97 413.65,384.97 414.00,384.97 414.35,384.96 414.70,384.96 415.05,384.96 415.40,384.96 415.75,384.95 416.10,384.95 416.45,384.95 416.80,384.95 417.15,384.95 417.50,384.94 417.85,384.94 418.20,384.94 418.55,384.94 418.90,384.94 419.25,383.41 419.60,383.13 419.95,382.97 420.30,384.93 420.65,384.93 420.80,385.10" fill="#0a0af0"/>
<line x1="293.60" y1="385.85" x2="420.80" y2="385.85" stroke="#b0b0b0" stroke-width="0.6"/>
<line x1="293.60" y1="385.10" x2="420.80" y2="385.10" stroke="#060694" stroke-width="1.05"/>
<polygon points="293.60,408.00 293.60,407.89 293.95,407.73 294.30,407.57 294.65,407.35 295.00,406.56 295.35,405.95 295.70,405.49 296.05,404.23 296.40,404.56 296.75,404.13 297.10,404.08 297.45,402.41 297.80,403.90 298.15,401.66 298.50,403.04 298.85,403.39 299.20,400.44 299.55,402.54 299.90,400.02 300.25,399.87 300.60,399.35 300.95,402.16 301.30,401.64 301.65,403.31 302.00,401.35 302.35,401.98 302.70,402.89 303.05,403.51 303.40,403.90 303.75,402.96 304.10,403.79 304.45,403.37 304.80,404.37 305.15,404.11 305.50,404.42 305.85,402.83 306.20,403.49 306.55,404.63 306.90,403.44 307.25,404.73 307.60,404.51 307.95,405.04 308.30,404.88 308.65,403.93 309.00,404.88 309.35,405.22 309.70,404.73 310.05,405.11 310.40,404.27 310.75,405.60 311.10,404.40 311.45,405.84 311.80,404.77 312.15,405.13 312.50,405.74 312.85,405.36 313.20,405.61 313.55,405.63 313.90,405.69 314.25,405.45 314.60,404.56 314.95,404.52 315.30,404.61 315.65,405.77 316.00,405.48 316.35,404.61 316.70,405.82 317.05,404.85 317.40,405.48 317.75,403.55 318.10,405.31 318.45,403.87 318.80,405.41 319.15,405.24 319.50,405.48 319.85,404.04 320.20,405.14 320.55,405.63 320.90,405.27 321.25,404.59 321.60,405.80 321.95,406.24 322.30,407.33 322.65,407.65 323.00,405.64 323.35,404.79 323.70,404.88 324.05,407.66 324.40,407.67 324.75,407.67 325.10,405.46 325.45,405.64 325.80,405.63 326.15,407.68 326.50,407.69 326.85,407.69 327.20,407.69 327.55,405.22 327.90,405.37 328.25,405.67 328.60,407.71 328.95,407.71 329.30,407.71 329.65,405.44 330.00,404.82 330.35,404.67 330.70,407.73 331.05,407.73 331.40,404.73 331.75,405.06 332.10,405.61 332.45,405.81 332.80,407.75 333.15,407.76 333.50,405.06 333.85,405.49 334.20,405.07 334.55,407.77 334.90,407.78 335.25,406.55 335.60,405.82 335.95,406.28 336.30,407.79 336.65,407.79 337.00,407.79 337.35,407.79 337.70,407.79 338.05,407.80 338.40,407.80 338.75,407.80 339.10,407.80 339.45,407.80 339.80,407.80 340.15,407.80 340.50,407.80 340.85,405.79 341.20,405.77 341.55,406.13 341.90,406.59 342.25,407.81 342.60,407.81 342.95,407.81 343.30,407.81 343.65,405.95 344.00,406.33 344.35,405.99 344.70,407.81 345.05,407.81 345.40,407.81 345.75,407.81 346.10,407.82 346.45,407.82 346.80,407.82 347.15,407.82 347.50,406.34 347.85,406.42 348.20,405.80 348.55,407.82 348.90,406.42 349.25,406.60 349.60,406.42 349.95,406.23 350.30,407.81 350.65,407.80 351.00,407.79 351.35,407.78 351.70,407.77 352.05,407.75 352.40,407.74 352.75,407.73 353.10,407.72 353.45,407.72 353.80,407.72 354.15,407.72 354.50,407.72 354.85,407.72 355.20,407.72 355.55,407.72 355.90,407.72 356.25,407.72 356.60,407.72 356.95,407.72 357.30,407.72 357.65,407.72 358.00,407.72 358.35,407.72 358.70,407.72 359.05,407.72 359.40,407.72 359.75,407.72 360.10,407.72 360.45,407.72 360.80,407.72 361.15,407.72 361.50,407.72 361.85,407.72 362.20,407.72 362.55,407.72 362.90,407.72 363.25,407.72 363.60,407.72 363.95,407.72 364.30,407.72 364.65,407.72 365.00,407.72 365.35,407.72 365.70,407.72 366.05,407.72 366.40,407.72 366.75,407.72 367.10,407.72 367.45,407.72 367.80,407.72 368.15,407.72 368.50,407.72 368.85,407.72 369.20,407.72 369.55,407.72 369.90,407.72 370.25,407.72 370.60,407.72 370.95,407.72 371.30,407.72 371.65,407.72 372.00,407.72 372.35,407.72 372.70,407.72 373.05,407.78 373.40,407.87 373.75,407.89 374.10,407.89 374.45,407.89 374.80,407.89 375.15,407.89 375.50,407.89 375.85,407.89 376.20,407.89 376.55,407.89 376.90,407.89 377.25,407.89 377.60,407.89 377.95,407.89 378.30,407.89 378.65,407.89 379.00,407.89 379.35,407.89 379.70,407.89 380.05,407.89 380.40,407.89 380.75,407.89 381.10,407.89 381.45,407.89 381.80,407.89 382.15,407.89 382.50,407.89 382.85,407.89 383.20,407.89 383.55,407.89 383.90,407.89 384.25,407.89 384.60,407.89 384.95,407.89 385.30,407.89 385.65,407.89 386.00,407.89 386.35,407.89 386.70,407.89 387.05,407.89 387.40,407.89 387.75,407.89 388.10,407.89 388.45,407.89 388.80,407.89 389.15,407.89 389.50,407.89 389.85,407.89 390.20,407.89 390.55,407.89 390.90,407.89 391.25,407.89 391.60,407.89 391.95,407.89 392.30,407.89 392.65,407.89 393.00,407.89 393.35,407.89 393.70,407.89 394.05,407.89 394.40,407.89 394.75,407.89 395.10,407.89 395.45,407.89 395.80,407.89 396.15,407.85 396.50,405.19 396.85,404.20 397.20,404.34 397.55,405.16 397.90,405.73 398.25,404.87 398.60,406.95 398.95,406.80 399.30,406.99 399.65,406.64 400.00,406.75 400.35,406.37 400.70,406.80 401.05,406.03 401.40,405.83 401.75,406.13 402.10,406.01 402.45,405.88 402.80,405.76 403.15,406.26 403.50,405.09 403.85,405.98 404.20,406.03 404.55,406.13 404.90,405.95 405.25,405.27 405.60,406.21 405.95,406.13 406.30,405.41 406.65,406.02 407.00,406.23 407.35,405.74 407.70,405.98 408.05,406.24 408.40,406.30 408.75,406.94 409.10,406.65 409.45,406.97 409.80,407.23 410.15,407.44 410.50,407.63 410.85,407.82 411.20,407.89 411.55,407.89 411.90,407.89 412.25,407.88 412.60,407.88 412.95,407.87 413.30,407.87 413.65,407.87 414.00,407.86 414.35,407.86 414.70,407.86 415.05,407.85 415.40,407.85 415.75,407.84 416.10,407.84 416.45,407.84 416.80,407.83 417.15,407.83 417.50,407.83 417.85,407.82 418.20,407.82 418.55,407.81 418.90,406.85 419.25,406.79 419.60,406.50 419.95,406.50 420.30,407.80 420.65,407.79 420.80,408.00" fill="#0b7d0b"/>
<line x1="293.60" y1="408.75" x2="420.80" y2="408.75" stroke="#b0b0b0" stroke-width="0.6"/>
<line x1="293.60" y1="408.00" x2="420.80" y2="408.00" stroke="#064d06" stroke-width="1.05"/>
<rect x="373.40" y="342.90" width="7.70" height="95.10" fill="none" stroke="#aaa" stroke-width="0.6"/>
<rect x="381.80" y="342.90" width="14.90" height="95.10" fill="none" stroke="#aaa" stroke-width="0.6"/>
<text x="377.00" y="359.86" font-size="4.6" text-anchor="middle">47</text>
<text x="390.60" y="359.86" font-size="4.6" text-anchor="middle">47</text>
<text x="377.00" y="368.26" font-size="4.6" text-anchor="middle">161</text>
<text x="390.60" y="368.26" font-size="4.6" text-anchor="middle">161</text>
<text x="377.00" y="383.26" font-size="4.6" text-anchor="middle">53</text>
<text x="390.60" y="383.26" font-size="4.6" text-anchor="middle">53</text>
<text x="377.00" y="391.46" font-size="4.6" text-anchor="middle">38</text>
<text x="390.60" y="391.46" font-size="4.6" text-anchor="middle">38</text>
<text x="377.00" y="406.66" font-size="4.6" text-anchor="middle">73</text>
<text x="390.60" y="406.66" font-size="4.6" text-anchor="middle">73</text>
<text x="377.00" y="414.46" font-size="4.6" text-anchor="middle">62</text>
<text x="390.60" y="414.46" font-size="4.6" text-anchor="middle">62</text>
<text x="427.00" y="359.03" font-size="4.8">Leaf</text>
<text x="427.00" y="381.83" font-size="4.8">Root</text>
<text x="427.00" y="404.13" font-size="4.8">Stem</text>
<polyline points="438.60,357.30 440.60,357.30 440.60,380.10 438.60,380.10" fill="none" stroke="#c9a48a" stroke-width="0.6"/>
<text x="442.50" y="366.58" font-size="4.4">up</text>
<text x="442.50" y="371.98" font-size="4.4">ΔPSI = 0.33</text>
<line x1="293.00" y1="417.90" x2="421.00" y2="417.90" stroke="#a0a0a0" stroke-width="0.8"/>
<rect x="293.00" y="416.05" width="27.60" height="3.70" fill="#0a14e0"/>
<rect x="322.60" y="416.05" width="1.10" height="3.70" fill="#0a14e0"/>
<rect x="325.20" y="416.05" width="1.40" height="3.70" fill="#0a14e0"/>
<rect x="329.40" y="416.05" width="1.60" height="3.70" fill="#0a14e0"/>
<rect x="332.90" y="416.05" width="1.30" height="3.70" fill="#0a14e0"/>
<rect x="341.20" y="416.05" width="1.30" height="3.70" fill="#0a14e0"/>
<rect x="346.90" y="416.05" width="1.30" height="3.70" fill="#0a14e0"/>
<rect x="353.00" y="416.05" width="1.10" height="3.70" fill="#0a14e0"/>
<rect x="355.00" y="416.05" width="0.80" height="3.70" fill="#0a14e0"/>
<rect x="356.30" y="416.05" width="0.80" height="3.70" fill="#0a14e0"/>
<rect x="357.60" y="416.05" width="0.80" height="3.70" fill="#0a14e0"/>
<rect x="358.90" y="416.05" width="0.80" height="3.70" fill="#0a14e0"/>
<rect x="361.80" y="416.05" width="1.00" height="3.70" fill="#0a14e0"/>
<rect x="364.00" y="416.05" width="1.30" height="3.70" fill="#0a14e0"/>
<rect x="367.00" y="416.05" width="1.30" height="3.70" fill="#0a14e0"/>
<rect x="371.30" y="416.05" width="10.70" height="3.70" fill="#0a14e0"/>
<rect x="371.60" y="417.00" width="1.40" height="1.80" fill="#c0392b"/>
<rect x="395.60" y="416.05" width="2.20" height="3.70" fill="#0a14e0"/>
<rect x="403.00" y="416.05" width="2.70" height="3.70" fill="#0a14e0"/>
<rect x="419.70" y="416.05" width="1.30" height="3.70" fill="#0a14e0"/>
<line x1="293.00" y1="422.80" x2="421.00" y2="422.80" stroke="#a0a0a0" stroke-width="0.8"/>
<rect x="293.00" y="420.95" width="27.60" height="3.70" fill="#0a14e0"/>
<rect x="322.60" y="420.95" width="1.10" height="3.70" fill="#0a14e0"/>
<rect x="325.20" y="420.95" width="1.40" height="3.70" fill="#0a14e0"/>
<rect x="329.40" y="420.95" width="1.60" height="3.70" fill="#0a14e0"/>
<rect x="332.90" y="420.95" width="1.30" height="3.70" fill="#0a14e0"/>
<rect x="341.20" y="420.95" width="1.30" height="3.70" fill="#0a14e0"/>
<rect x="346.90" y="420.95" width="1.30" height="3.70" fill="#0a14e0"/>
<rect x="353.00" y="420.95" width="1.10" height="3.70" fill="#0a14e0"/>
<rect x="355.00" y="420.95" width="0.80" height="3.70" fill="#0a14e0"/>
<rect x="356.30" y="420.95" width="0.80" height="3.70" fill="#0a14e0"/>
<rect x="357.60" y="420.95" width="0.80" height="3.70" fill="#0a14e0"/>
<rect x="358.90" y="420.95" width="0.80" height="3.70" fill="#0a14e0"/>
<rect x="361.80" y="420.95" width="1.00" height="3.70" fill="#0a14e0"/>
<rect x="364.00" y="420.95" width="1.30" height="3.70" fill="#0a14e0"/>
<rect x="367.00" y="420.95" width="1.30" height="3.70" fill="#0a14e0"/>
<rect x="371.30" y="420.95" width="2.50" height="3.70" fill="#0a14e0"/>
<rect x="371.60" y="421.90" width="1.40" height="1.80" fill="#2e9e44"/>
<rect x="380.30" y="420.95" width="1.70" height="3.70" fill="#0a14e0"/>
<rect x="380.50" y="421.90" width="1.40" height="1.80" fill="#2e9e44"/>
<rect x="395.60" y="420.95" width="2.20" height="3.70" fill="#0a14e0"/>
<rect x="403.00" y="420.95" width="2.70" height="3.70" fill="#0a14e0"/>
<rect x="419.70" y="420.95" width="1.30" height="3.70" fill="#0a14e0"/>
<line x1="294.00" y1="427.90" x2="420.50" y2="427.90" stroke="#a0a0a0" stroke-width="0.8"/>
<rect x="294.00" y="426.05" width="26.60" height="3.70" fill="#0a14e0"/>
<rect x="322.60" y="426.05" width="1.10" height="3.70" fill="#0a14e0"/>
<rect x="325.20" y="426.05" width="1.40" height="3.70" fill="#0a14e0"/>
<rect x="329.40" y="426.05" width="1.60" height="3.70" fill="#0a14e0"/>
<rect x="332.90" y="426.05" width="1.30" height="3.70" fill="#0a14e0"/>
<rect x="341.20" y="426.05" width="1.30" height="3.70" fill="#0a14e0"/>
<rect x="346.90" y="426.05" width="1.30" height="3.70" fill="#0a14e0"/>
<rect x="353.00" y="426.05" width="1.10" height="3.70" fill="#0a14e0"/>
<rect x="355.00" y="426.05" width="0.80" height="3.70" fill="#0a14e0"/>
<rect x="356.30" y="426.05" width="0.80" height="3.70" fill="#0a14e0"/>
<rect x="357.60" y="426.05" width="0.80" height="3.70" fill="#0a14e0"/>
<rect x="358.90" y="426.05" width="0.80" height="3.70" fill="#0a14e0"/>
<rect x="361.80" y="426.05" width="1.00" height="3.70" fill="#0a14e0"/>
<rect x="364.00" y="426.05" width="1.30" height="3.70" fill="#0a14e0"/>
<rect x="367.00" y="426.05" width="1.30" height="3.70" fill="#0a14e0"/>
<rect x="371.30" y="426.05" width="26.50" height="3.70" fill="#0a14e0"/>
<rect x="371.60" y="427.00" width="1.40" height="1.80" fill="#c0392b"/>
<rect x="403.00" y="426.05" width="2.70" height="3.70" fill="#0a14e0"/>
<rect x="419.70" y="426.05" width="0.80" height="3.70" fill="#0a14e0"/>
<rect x="296.90" y="431.15" width="10.80" height="3.70" fill="#0a14e0"/>
<rect x="380.50" y="427.00" width="1.40" height="1.80" fill="#c0392b"/>
<rect x="380.50" y="417.00" width="1.40" height="1.80" fill="#2e9e44"/>
<text x="424.80" y="419.85" font-size="4.3">PB.10345.1</text>
<text x="424.80" y="424.95" font-size="4.3">PB.10345.2</text>
<text x="424.80" y="429.85" font-size="4.3">PB.10345.3</text>
<text x="424.80" y="435.05" font-size="4.3">PB.10345.4</text>
<text x="517.60" y="326.36" font-size="7.4" fill="#111"><tspan font-style="italic">CsUGT.41 - Cs8G0145600</tspan> - Chr8 - A3 - "-"</text>
<polygon points="534.00,361.40 534.00,360.90 534.50,357.74 535.00,355.01 535.50,351.67 536.00,350.67 536.50,345.61 537.00,341.76 537.50,345.96 538.00,344.71 538.50,345.67 539.00,350.42 539.50,348.52 540.00,349.59 540.50,353.02 541.00,354.05 541.50,353.53 542.00,355.16 542.50,356.18 543.00,355.77 543.50,356.63 544.00,357.86 544.50,358.44 545.00,358.75 545.50,358.74 546.00,358.26 546.50,358.59 547.00,358.61 547.50,358.84 548.00,358.95 548.50,359.76 549.00,359.49 549.50,358.91 550.00,358.70 550.50,359.19 551.00,358.83 551.50,358.92 552.00,359.47 552.50,359.64 553.00,360.23 553.50,360.13 554.00,360.21 554.50,360.55 555.00,360.59 555.50,360.28 556.00,360.38 556.50,360.34 557.00,360.48 557.50,360.43 558.00,360.43 558.50,360.45 559.00,360.76 559.50,360.57 560.00,360.60 560.50,360.60 561.00,360.60 561.50,360.60 562.00,360.60 562.50,360.60 563.00,360.60 563.50,360.60 564.00,360.60 564.50,360.60 565.00,360.60 565.50,360.60 566.00,360.60 566.50,360.60 567.00,360.60 567.50,360.60 568.00,360.60 568.50,360.60 569.00,360.60 569.50,360.60 570.00,360.60 570.50,360.70 571.00,360.54 571.50,360.66 572.00,360.55 572.50,360.39 573.00,360.48 573.50,360.60 574.00,360.48 574.50,360.49 575.00,360.27 575.50,360.21 576.00,359.87 576.50,359.26 577.00,359.40 577.50,358.82 578.00,358.30 578.50,358.68 579.00,358.86 579.50,358.51 580.00,358.32 580.50,358.61 581.00,358.44 581.50,358.23 582.00,357.76 582.50,357.62 583.00,357.86 583.50,357.98 583.80,361.40" fill="#ee0a0a"/>
<line x1="534.00" y1="362.15" x2="583.80" y2="362.15" stroke="#b0b0b0" stroke-width="0.6"/>
<line x1="534.00" y1="361.40" x2="583.80" y2="361.40" stroke="#930606" stroke-width="1.05"/>
<polygon points="534.00,384.50 534.00,384.00 534.50,382.93 535.00,381.11 535.50,380.16 536.00,380.03 536.50,379.61 537.00,378.94 537.50,380.56 538.00,380.36 538.50,379.98 539.00,379.01 539.50,378.03 540.00,379.19 540.50,380.27 541.00,381.11 541.50,380.83 542.00,379.96 542.50,379.87 543.00,379.09 543.50,380.16 544.00,379.15 544.50,377.66 545.00,379.00 545.50,379.88 546.00,381.66 546.50,381.80 547.00,380.78 547.50,381.57 548.00,380.79 548.50,381.96 549.00,382.36 549.50,381.89 550.00,382.65 550.50,382.89 551.00,382.54 551.50,382.42 552.00,382.06 552.50,382.58 553.00,382.40 553.50,382.63 554.00,383.70 554.50,383.72 555.00,383.73 555.50,383.75 556.00,383.77 556.50,383.78 557.00,383.80 557.50,383.82 558.00,383.83 558.50,383.85 559.00,383.87 559.50,383.88 560.00,383.90 560.50,383.90 561.00,383.90 561.50,383.90 562.00,383.90 562.50,383.90 563.00,383.90 563.50,383.90 564.00,383.90 564.50,383.90 565.00,383.90 565.50,383.90 566.00,383.90 566.50,383.90 567.00,383.90 567.50,383.90 568.00,383.90 568.50,383.90 569.00,383.90 569.50,383.90 570.00,383.90 570.50,383.86 571.00,383.82 571.50,383.78 572.00,383.74 572.50,383.70 573.00,383.62 573.50,383.79 574.00,383.69 574.50,383.64 575.00,383.48 575.50,382.91 576.00,382.10 576.50,382.09 577.00,382.32 577.50,382.08 578.00,382.04 578.50,381.98 579.00,382.22 579.50,381.88 580.00,381.92 580.50,381.78 581.00,382.60 581.50,381.97 582.00,382.82 582.50,382.21 583.00,382.43 583.50,382.56 583.80,384.50" fill="#0a10e6"/>
<line x1="534.00" y1="385.25" x2="583.80" y2="385.25" stroke="#b0b0b0" stroke-width="0.6"/>
<line x1="534.00" y1="384.50" x2="583.80" y2="384.50" stroke="#06098e" stroke-width="1.05"/>
<polygon points="534.00,407.60 534.00,406.80 534.50,406.70 535.00,406.71 535.50,406.68 536.00,406.57 536.50,406.51 537.00,406.50 537.50,406.50 538.00,406.43 538.50,406.38 539.00,406.28 539.50,406.32 540.00,406.25 540.50,406.25 541.00,406.31 541.50,406.35 542.00,406.29 542.50,406.31 543.00,406.40 543.50,406.44 544.00,406.52 544.50,406.53 545.00,406.58 545.50,406.51 546.00,406.51 546.50,406.59 547.00,406.45 547.50,406.55 548.00,406.46 548.50,406.46 549.00,406.44 549.50,406.57 550.00,406.53 550.50,406.45 551.00,406.61 551.50,406.60 552.00,406.51 552.50,406.52 553.00,406.45 553.50,406.50 554.00,406.56 554.50,406.50 555.00,406.60 555.50,406.62 556.00,406.62 556.50,406.69 557.00,406.71 557.50,406.70 558.00,406.75 558.50,406.69 559.00,406.75 559.50,406.79 560.00,406.80 560.50,406.80 561.00,406.80 561.50,406.80 562.00,406.80 562.50,406.80 563.00,406.80 563.50,406.80 564.00,406.80 564.50,406.80 565.00,406.80 565.50,406.80 566.00,406.80 566.50,406.80 567.00,406.80 567.50,406.80 568.00,406.80 568.50,406.80 569.00,406.80 569.50,406.80 570.00,406.80 570.50,406.84 571.00,406.77 571.50,406.73 572.00,406.68 572.50,406.64 573.00,406.56 573.50,406.51 574.00,406.56 574.50,406.53 575.00,406.47 575.50,406.36 576.00,406.45 576.50,406.42 577.00,406.36 577.50,406.49 578.00,406.46 578.50,406.33 579.00,406.36 579.50,406.42 580.00,406.50 580.50,406.35 581.00,406.39 581.50,406.36 582.00,406.33 582.50,406.35 583.00,406.44 583.50,406.49 583.80,407.60" fill="#1a8a1a"/>
<line x1="534.00" y1="408.35" x2="583.80" y2="408.35" stroke="#b0b0b0" stroke-width="0.6"/>
<line x1="534.00" y1="407.60" x2="583.80" y2="407.60" stroke="#105510" stroke-width="1.05"/>
<rect x="542.50" y="342.00" width="4.50" height="95.00" fill="none" stroke="#aaa" stroke-width="0.6"/>
<text x="543.20" y="356.86" font-size="4.6">111</text>
<text x="543.20" y="366.66" font-size="4.6">494</text>
<text x="543.20" y="379.36" font-size="4.6">166</text>
<text x="543.20" y="389.46" font-size="4.6">205</text>
<text x="543.20" y="404.66" font-size="4.6">34</text>
<text x="543.20" y="412.36" font-size="4.6">45</text>
<text x="594.00" y="357.53" font-size="4.8">Leaf</text>
<text x="594.00" y="381.33" font-size="4.8">Root</text>
<text x="594.00" y="404.33" font-size="4.8">Stem</text>
<polyline points="592.20,355.80 590.00,355.80 590.00,402.60 592.20,402.60" fill="none" stroke="#c9a48a" stroke-width="0.6"/>
<polyline points="605.00,355.80 607.00,355.80 607.00,379.60 605.00,379.60" fill="none" stroke="#c9a48a" stroke-width="0.6"/>
<text x="611.00" y="366.38" font-size="4.4">down</text>
<text x="609.80" y="371.58" font-size="4.4">ΔPSI = -0.25</text>
<text x="591.50" y="389.38" font-size="4.4">down</text>
<text x="591.50" y="393.98" font-size="4.4">ΔPSI = -0.27</text>
<line x1="533.90" y1="417.00" x2="583.40" y2="417.00" stroke="#a0a0a0" stroke-width="0.8"/>
<rect x="533.90" y="415.30" width="10.10" height="3.40" fill="#0a14e0"/>
<rect x="541.00" y="416.10" width="1.40" height="1.80" fill="#c0392b"/>
<rect x="545.70" y="415.30" width="8.20" height="3.40" fill="#0a14e0"/>
<rect x="575.10" y="415.30" width="8.30" height="3.40" fill="#0a14e0"/>
<line x1="533.90" y1="422.20" x2="583.40" y2="422.20" stroke="#a0a0a0" stroke-width="0.8"/>
<rect x="533.90" y="420.50" width="10.10" height="3.40" fill="#0a14e0"/>
<rect x="541.00" y="421.30" width="1.40" height="1.80" fill="#2e9e44"/>
<rect x="545.70" y="420.50" width="8.20" height="3.40" fill="#0a14e0"/>
<rect x="575.10" y="420.50" width="8.30" height="3.40" fill="#0a14e0"/>
<line x1="536.20" y1="427.40" x2="583.40" y2="427.40" stroke="#a0a0a0" stroke-width="0.8"/>
<rect x="536.20" y="425.70" width="7.80" height="3.40" fill="#0a14e0"/>
<rect x="541.00" y="426.50" width="1.40" height="1.80" fill="#c0392b"/>
<rect x="545.70" y="425.70" width="8.20" height="3.40" fill="#0a14e0"/>
<rect x="575.10" y="425.70" width="8.30" height="3.40" fill="#0a14e0"/>
<line x1="538.60" y1="432.10" x2="583.40" y2="432.10" stroke="#a0a0a0" stroke-width="0.8"/>
<rect x="538.60" y="430.40" width="5.40" height="3.40" fill="#0a14e0"/>
<rect x="541.00" y="431.20" width="1.40" height="1.80" fill="#c0392b"/>
<rect x="545.70" y="430.40" width="8.20" height="3.40" fill="#0a14e0"/>
<rect x="575.10" y="430.40" width="8.30" height="3.40" fill="#0a14e0"/>
<text x="588.70" y="418.55" font-size="4.3">PB.12345.1</text>
<text x="588.70" y="423.75" font-size="4.3">PB.12345.2</text>
<text x="588.70" y="428.95" font-size="4.3">PB.12345.3</text>
<text x="588.70" y="433.65" font-size="4.3">PB.12345.4</text>
</svg>
</body></html>
